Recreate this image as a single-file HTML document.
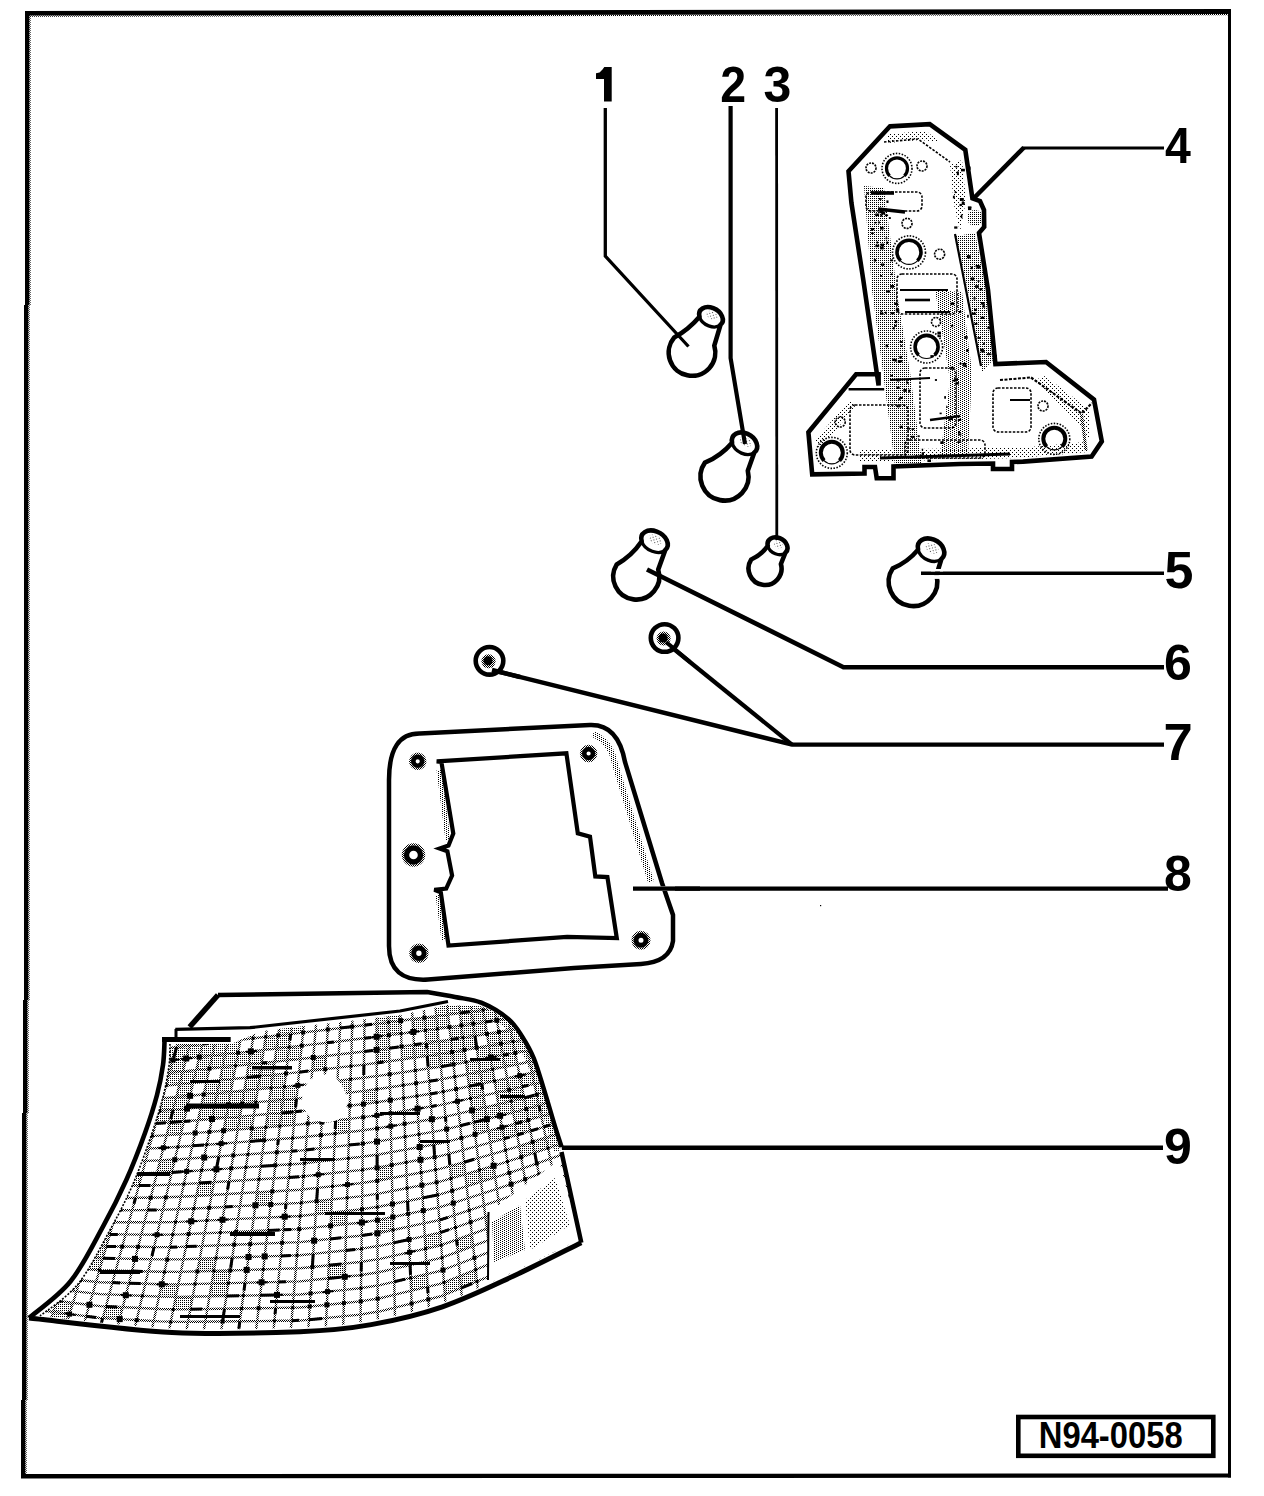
<!DOCTYPE html>
<html><head><meta charset="utf-8"><title>N94-0058</title>
<style>
html,body{margin:0;padding:0;background:#fff;}
body{width:1264px;height:1496px;overflow:hidden;}
svg{display:block;}
text{font-family:"Liberation Sans",sans-serif;font-weight:bold;}
</style></head><body>
<svg width="1264" height="1496" viewBox="0 0 1264 1496">
<defs>
<pattern id="s25" width="2" height="2" patternUnits="userSpaceOnUse"><rect width="1" height="1" fill="#000"/></pattern>
<pattern id="s50" width="2" height="2" patternUnits="userSpaceOnUse"><rect width="1" height="1" fill="#000"/><rect x="1" y="1" width="1" height="1" fill="#000"/></pattern>
<pattern id="s12" width="4" height="2" patternUnits="userSpaceOnUse"><rect width="1" height="1" fill="#000"/><rect x="2" y="1" width="1" height="1" fill="#000"/></pattern>
<pattern id="s6" width="4" height="4" patternUnits="userSpaceOnUse"><rect width="1" height="1" fill="#000"/><rect x="2" y="2" width="1" height="1" fill="#000"/></pattern>
</defs>

<g fill="#000">
<polygon points="25,11 1231,9 1231,14 25,15.6"/>
<polygon points="29,15.6 1228,14 1228,15.2 29,16.8" fill="url(#s50)"/>
<polygon points="25,11 25,305 24,305 24,1000 23,1000 23,1113 22,1113 22,1400 21,1400 21,1478 25.3,1478 25.3,1400 26.3,1400 26.3,1113 27.3,1113 27.3,1000 28.3,1000 28.3,305 29.3,305 29.3,11"/>
<polygon points="29.3,11 29.3,305 28.3,305 28.3,1000 27.3,1000 27.3,1113 26.3,1113 26.3,1400 25.3,1400 25.3,1478 26.6,1478 26.6,1400 27.6,1400 27.6,1113 28.6,1113 28.6,1000 29.6,1000 29.6,305 30.6,305 30.6,11" fill="url(#s50)"/>
<polygon points="1228,9 1231,9 1231,1477.5 1228,1477.5"/>
<polygon points="21,1474 1231,1473.5 1231,1477.5 21,1478.5"/>
</g>
<g font-size="50" fill="#000">
<polygon points="604.3,67 611.7,67 611.7,101.6 604,101.6 604,79 596,79 596,73.2 599.5,72.4 602.5,69.5"/>
<text transform="translate(720.2,102) scale(0.93,1)" font-size="50">2</text>
<text transform="translate(1165,163.3) scale(0.93,1)" font-size="50">4</text>
<text x="763.5" y="102" font-size="50">3</text>
<text x="1164.6" y="588.2" font-size="52">5</text>
<text x="1164" y="680.3" font-size="50">6</text>
<text x="1163.6" y="759.6" font-size="52.6">7</text>
<text x="1164" y="891" font-size="50">8</text>
<text x="1164" y="1164" font-size="50">9</text>
</g>
<path d="M714.3,345.7 A23.3,23.3 0 1 1 674.2,337.5 Q688.8,329.4 699.5,316.7 A9,12.5 -61.8 1 1 720.5,324.8 Z" fill="#fff" stroke="#000" stroke-width="4.6" stroke-linejoin="round"/><ellipse cx="711.9" cy="315.2" rx="4" ry="6.2" transform="rotate(-61.8 711.9 315.2)" fill="url(#s6)" opacity="0.7"/><path d="M720.5,324.8 A9,12.5 -61.8 0 1 699.5,316.7" fill="none" stroke="#000" stroke-width="3.3"/>
<path d="M747.8,470.8 A24,24 0 1 1 704.9,462.7 Q720.9,455.9 732.1,442.7 A10,13.5 -58.8 1 1 754.3,452.5 Z" fill="#fff" stroke="#000" stroke-width="4.6" stroke-linejoin="round"/><ellipse cx="745.5" cy="441.8" rx="4.5" ry="6.8" transform="rotate(-58.8 745.5 441.8)" fill="url(#s6)" opacity="0.7"/><path d="M754.3,452.5 A10,13.5 -58.8 0 1 732.1,442.7" fill="none" stroke="#000" stroke-width="3.3"/>
<path d="M658.2,569.6 A23,23 0 1 1 616.7,564.5 Q631.9,555.8 641.7,541.3 A10,14 -62.5 1 1 665.3,550 Z" fill="#fff" stroke="#000" stroke-width="4.6" stroke-linejoin="round"/><ellipse cx="655.4" cy="539.7" rx="4.5" ry="7" transform="rotate(-62.5 655.4 539.7)" fill="url(#s6)" opacity="0.7"/><path d="M665.3,550 A10,14 -62.5 0 1 641.7,541.3" fill="none" stroke="#000" stroke-width="3.3"/>
<path d="M780.9,564 A16.5,16.5 0 1 1 751.2,559.5 Q761.4,555 767.8,545.8 A8,10.5 -60.9 1 1 785.4,552.7 Z" fill="#fff" stroke="#000" stroke-width="4.6" stroke-linejoin="round"/><ellipse cx="778.5" cy="544.3" rx="3.6" ry="5.2" transform="rotate(-60.9 778.5 544.3)" fill="url(#s6)" opacity="0.7"/><path d="M785.4,552.7 A8,10.5 -60.9 0 1 767.8,545.8" fill="none" stroke="#000" stroke-width="3.3"/>
<path d="M936.4,575.2 A24.3,24.3 0 1 1 892.8,568.3 Q907.8,562.1 918.1,549.6 A10.5,14 -60.4 1 1 941.4,559 Z" fill="#fff" stroke="#000" stroke-width="4.6" stroke-linejoin="round"/><ellipse cx="932" cy="548.3" rx="4.7" ry="7" transform="rotate(-60.4 932 548.3)" fill="url(#s6)" opacity="0.7"/><path d="M941.4,559 A10.5,14 -60.4 0 1 918.1,549.6" fill="none" stroke="#000" stroke-width="3.3"/>
<g fill="none" stroke="#000" stroke-linejoin="miter" stroke-linecap="butt">
<polyline points="605.3,108 605.3,256 688.5,346.5" stroke-width="3.3"/>
<polyline points="730.6,106 730.6,358 745,444" stroke-width="4.2"/>
<polyline points="776.6,108 776.8,540" stroke-width="2.8"/>
<polyline points="1164,148 1022.5,148" stroke-width="3.2"/>
<polyline points="1024,147.5 973,199" stroke-width="4.6"/>
<polyline points="921,573.3 1164,573.3" stroke-width="3.4"/>
<polyline points="647,569.5 843.5,667.2 1164,667.2" stroke-width="4.6"/>
<polyline points="498,671.5 792,744.6 1164,744.6" stroke-width="4.4"/>
<polyline points="672.6,648 792,744.6" stroke-width="4.2"/>
<polyline points="633,888.6 1168,888.6" stroke-width="4.2"/>
<polyline points="537,1147.8 1163,1147.8" stroke-width="4.4"/>
</g>
<rect x="931" y="569" width="12" height="2.4" fill="#fff"/>
<rect x="931" y="575.1" width="12" height="3.8" fill="#fff"/>
<circle cx="489.5" cy="660.8" r="13.8" fill="#fff" stroke="#000" stroke-width="4.6"/>
<circle cx="488.5" cy="661.3" r="7" fill="url(#s50)"/>
<circle cx="488" cy="660.8" r="4.5" fill="#000"/>
<circle cx="664.6" cy="638" r="13.8" fill="#fff" stroke="#000" stroke-width="4.6"/>
<circle cx="663.6" cy="638.5" r="7" fill="url(#s50)"/>
<circle cx="663.1" cy="638" r="4.5" fill="#000"/>
<polyline points="492,670 520,677" fill="none" stroke="#000" stroke-width="4.4"/>
<polyline points="666,642 690,662" fill="none" stroke="#000" stroke-width="4.2"/>
<polygon points="889.8,126.4 929.7,124.2 965.3,149.9 972.4,198.3 980,201 984,210 984.2,227 979,233 988,290 995.4,364 1046,362 1094,399.6 1101.8,441.4 1091.6,456.6 1023,461.6 1012,462 1012,469 993,469 993,463.5 960,464 893.5,466.5 893.5,478.2 876.7,478.2 875,467 864.5,467 864.5,473.5 812.2,474.4 808.4,432.3 856.1,374.3 878.6,374.3 878.6,385.5 863.3,280 851.4,202.6 848.5,171.3" fill="#fff"/>
<polygon points="864,186 884,188 898,300 910,372 922,465 895,466 884,380 872,290" fill="url(#s25)"/>
<polygon points="956,236 975,233 987,292 993,360 982,372 970,300" fill="url(#s25)"/>
<polygon points="935,290 962,292 972,372 968,455 940,458 950,380" fill="url(#s12)"/>
<polygon points="950,165 962,160 966,200 960,232 954,205" fill="url(#s6)"/>
<polygon points="888,134 926,131 940,142 920,140 888,143" fill="url(#s6)"/>
<polygon points="860,450 1030,447 1085,442 1088,452 1020,458 860,462" fill="url(#s6)"/>
<polygon points="1035,380 1045,376 1090,410 1090,440 1075,420" fill="url(#s6)"/>
<polygon points="815,440 850,400 856,405 820,450" fill="url(#s6)"/>
<circle cx="975" cy="218" r="8" fill="url(#s25)"/>
<polygon points="897,160 912,160 912,178 897,178" fill="#fff"/>
<g fill="#000"><rect x="890.6" y="312.1" width="3.8" height="2.2"/><rect x="892.8" y="327.1" width="2" height="2.3"/><rect x="900.6" y="360.1" width="1.7" height="2"/><rect x="884.9" y="214.5" width="3.2" height="1.6"/><rect x="925.7" y="455.2" width="3.1" height="2.4"/><rect x="871" y="232.5" width="2.8" height="1.6"/><rect x="876.5" y="241.4" width="1.6" height="2.2"/><rect x="895.9" y="308.9" width="2.8" height="2.5"/><rect x="894.1" y="324.9" width="2.6" height="1.9"/><rect x="927.4" y="459.4" width="3.6" height="2.6"/><rect x="880" y="275.1" width="2.2" height="1.6"/><rect x="899.3" y="396.9" width="3.6" height="2.1"/><rect x="921.7" y="448.7" width="1.5" height="1.8"/><rect x="910.8" y="435.8" width="4" height="2.1"/><rect x="880.8" y="209.7" width="3.4" height="1.9"/><rect x="875.2" y="213.5" width="3.9" height="2.6"/><rect x="874.4" y="221.9" width="1.8" height="1.6"/><rect x="897" y="405.2" width="2.9" height="2.2"/><rect x="886.3" y="241.5" width="1.8" height="2.5"/><rect x="877.9" y="221.5" width="2" height="1.9"/><rect x="921.7" y="452.2" width="2.3" height="2.8"/><rect x="880.1" y="246.9" width="3.6" height="2.5"/><rect x="888.8" y="217.1" width="2" height="1.9"/><rect x="898.3" y="398.6" width="2.2" height="1.6"/><rect x="880.3" y="214.3" width="2.1" height="2.4"/><rect x="886.1" y="290.4" width="3.9" height="2.2"/><rect x="900.4" y="345.1" width="2" height="1.7"/><rect x="917.6" y="435.3" width="2.1" height="1.8"/><rect x="908.2" y="389.6" width="2" height="2.9"/><rect x="911.5" y="428.2" width="2.6" height="1.7"/><rect x="886.4" y="200.4" width="2.1" height="2.6"/><rect x="890.1" y="259.4" width="3" height="1.9"/><rect x="885.6" y="237.4" width="1.7" height="1.8"/><rect x="899.7" y="341" width="3" height="1.9"/><rect x="906" y="437.7" width="1.5" height="1.9"/><rect x="880.4" y="310.3" width="1.9" height="2.1"/><rect x="885.6" y="344.5" width="2.4" height="2.8"/><rect x="919.5" y="454.7" width="3.2" height="2.4"/><rect x="870.9" y="227.9" width="1.5" height="2.9"/><rect x="906.1" y="379.3" width="1.6" height="2.5"/><rect x="894.9" y="320.2" width="2.3" height="3"/><rect x="879.2" y="210.3" width="3.3" height="2.9"/><rect x="903.3" y="389" width="3.5" height="2.9"/><rect x="890.2" y="285" width="3.8" height="2.8"/><rect x="894.2" y="302.6" width="3.7" height="2.4"/><rect x="892.2" y="358.7" width="3" height="2.4"/><rect x="881.2" y="211.7" width="4" height="2.8"/><rect x="896.4" y="386.6" width="3.3" height="2.4"/><rect x="895.9" y="308.9" width="1.7" height="2.6"/><rect x="878.9" y="198" width="2.7" height="1.8"/><rect x="896.7" y="378.6" width="3" height="2.9"/><rect x="873.8" y="259.1" width="2.3" height="2.5"/><rect x="875.4" y="244.7" width="3.8" height="2.5"/><rect x="897" y="309.3" width="2.3" height="2.5"/><rect x="880.5" y="243.6" width="3.5" height="2.9"/><rect x="907" y="427.7" width="3" height="2"/><rect x="880" y="226.8" width="3.6" height="2.8"/><rect x="906.4" y="382" width="2.2" height="1.8"/><rect x="884.9" y="311.7" width="2" height="2.1"/><rect x="894.5" y="358.9" width="2.3" height="2.8"/><rect x="915.5" y="455.1" width="1.7" height="1.5"/><rect x="899.6" y="425.7" width="3.3" height="2.4"/><rect x="891" y="273.4" width="1.5" height="1.7"/><rect x="880" y="312.8" width="3.6" height="1.9"/><rect x="871.1" y="228" width="3.1" height="2.2"/><rect x="897.8" y="360.1" width="3.5" height="2.9"/><rect x="890.3" y="374.8" width="2.7" height="1.8"/><rect x="875.8" y="192.9" width="3.3" height="1.8"/><rect x="881" y="263.5" width="3.2" height="2.3"/><rect x="899.4" y="355.9" width="2.5" height="2.7"/><rect x="980.1" y="348.7" width="3.8" height="2.6"/><rect x="967.4" y="255.6" width="3.1" height="2.9"/><rect x="975.1" y="285.2" width="3.7" height="2.7"/><rect x="987.1" y="353.3" width="3.1" height="1.8"/><rect x="987.4" y="326.6" width="3.1" height="2.6"/><rect x="976.5" y="265.6" width="4" height="3"/><rect x="982.5" y="304.4" width="2.3" height="2.9"/><rect x="983.1" y="342.7" width="1.7" height="2.2"/><rect x="982.5" y="306" width="2.7" height="1.5"/><rect x="977.4" y="337.1" width="3.5" height="1.8"/><rect x="977.6" y="280.2" width="1.9" height="1.7"/><rect x="981" y="302" width="3.6" height="2.5"/><rect x="987.6" y="353.5" width="3.9" height="1.6"/><rect x="970.7" y="266.6" width="2.2" height="2.6"/><rect x="980.7" y="316.7" width="3.6" height="2.3"/><rect x="970.6" y="277.4" width="3.6" height="2.9"/><rect x="975.6" y="265" width="3.9" height="2.3"/><rect x="974" y="308.8" width="2.8" height="2.3"/><rect x="972" y="312.6" width="3.9" height="2.3"/><rect x="979.4" y="288.1" width="2.9" height="2.2"/><rect x="974.6" y="322.9" width="2.8" height="2.1"/><rect x="994.7" y="354.8" width="2.2" height="2.2"/><rect x="967" y="255.2" width="3.5" height="2.9"/><rect x="973.5" y="297.2" width="2" height="2.4"/><rect x="981.3" y="351" width="3.4" height="1.5"/><rect x="937.8" y="335.2" width="3.2" height="2"/><rect x="944.2" y="396.1" width="1.8" height="2.6"/><rect x="934.9" y="379.1" width="2.1" height="1.8"/><rect x="951.2" y="367.7" width="2.4" height="2.1"/><rect x="951.2" y="324.8" width="2" height="2.4"/><rect x="955.5" y="382.1" width="3.6" height="2.4"/><rect x="964.3" y="336.1" width="3.4" height="2.7"/><rect x="966.1" y="349" width="2.3" height="2.9"/><rect x="938.7" y="454.7" width="3.7" height="1.7"/><rect x="939.6" y="412.6" width="2.1" height="1.6"/><rect x="963.3" y="365.4" width="3.5" height="1.7"/><rect x="946.1" y="406.2" width="1.5" height="1.8"/><rect x="957.3" y="441.3" width="3.9" height="1.7"/><rect x="950.2" y="417.5" width="2.8" height="2.5"/><rect x="937.6" y="310.9" width="1.8" height="1.6"/><rect x="952.1" y="379.8" width="2.9" height="1.7"/><rect x="937.4" y="331.6" width="3.6" height="3"/><rect x="967.1" y="314.8" width="1.7" height="2.9"/><rect x="948.5" y="418.5" width="2.3" height="2.2"/><rect x="950.6" y="366.7" width="3" height="1.5"/><rect x="958" y="430.9" width="2" height="2.2"/><rect x="959.6" y="362.8" width="2" height="1.7"/><rect x="950.5" y="302.4" width="3.7" height="2.7"/><rect x="958.2" y="433.4" width="3.1" height="2.1"/><rect x="954" y="378.2" width="4" height="2.7"/><rect x="940.3" y="441.3" width="3.4" height="2.7"/><rect x="962.6" y="362.9" width="3.7" height="2.8"/><rect x="957.8" y="418.9" width="3.4" height="2.1"/><rect x="958.9" y="310.9" width="2.4" height="2.2"/><rect x="930.4" y="355.1" width="3.1" height="2.4"/><rect x="954.2" y="226.4" width="3.2" height="2.3"/><rect x="961.9" y="202" width="2.8" height="2.5"/><rect x="968" y="206.7" width="3.3" height="3.4"/><rect x="967.6" y="166.5" width="3" height="3.3"/><rect x="954.6" y="191.1" width="1.6" height="2"/><rect x="956.8" y="171.4" width="2.1" height="3.8"/><rect x="959.9" y="198" width="3.9" height="2.9"/><rect x="967.9" y="206.5" width="3.5" height="1.7"/><rect x="960.8" y="214.4" width="1.6" height="3.8"/><rect x="952.9" y="195.7" width="1.9" height="2.7"/><rect x="961" y="168.8" width="3.9" height="2.6"/><rect x="959.5" y="203.9" width="2.4" height="2.2"/><rect x="961.8" y="201.4" width="2.2" height="3.3"/><rect x="955.3" y="165.9" width="2.1" height="1.6"/></g>
<polygon points="889.8,126.4 929.7,124.2 965.3,149.9 972.4,198.3 980,201 984,210 984.2,227 979,233 988,290 995.4,364 1046,362 1094,399.6 1101.8,441.4 1091.6,456.6 1023,461.6 1012,462 1012,469 993,469 993,463.5 960,464 893.5,466.5 893.5,478.2 876.7,478.2 875,467 864.5,467 864.5,473.5 812.2,474.4 808.4,432.3 856.1,374.3 878.6,374.3 878.6,385.5 863.3,280 851.4,202.6 848.5,171.3" fill="none" stroke="#000" stroke-width="4.6" stroke-linejoin="miter"/>
<g fill="none" stroke="#000">
<polyline points="955,234 968,300 981,366" stroke-width="2.2"/>
<polyline points="848.6,389.3 884.2,389.3" stroke-width="2.5"/>
<polyline points="1031,377.5 1081.5,413.5 1092,403" stroke-width="2.2" stroke-dasharray="3,1.5"/>
<polyline points="1000,380 1031,377.5" stroke-width="2" stroke-dasharray="3,1.5"/>
<polyline points="1081.5,414 1086,450" stroke-width="3" stroke="url(#s50)"/>
<polyline points="884,142 918,139 950,162" stroke-width="1.6" stroke-dasharray="2.5,1.5"/>
<circle cx="897" cy="168.4" r="15" stroke-width="1.6" stroke-dasharray="1.5,1.5"/>
<path d="M889.6,175.8 A10.5,10.5 0 1 1 904.4,175.8" stroke-width="3.2"/>
<circle cx="897" cy="168.4" r="10.5" stroke-width="1.2"/>
<circle cx="909" cy="252.4" r="16.5" stroke-width="1.6" stroke-dasharray="1.5,1.5"/>
<path d="M900.6,260.8 A12,12 0 1 1 917.4,260.8" stroke-width="3.6"/>
<circle cx="909" cy="252.4" r="12" stroke-width="1.2"/>
<circle cx="926.6" cy="347" r="16" stroke-width="1.6" stroke-dasharray="1.5,1.5"/>
<path d="M918.6,355.1 A11.5,11.5 0 1 1 934.6,355.1" stroke-width="3.6"/>
<circle cx="926.6" cy="347" r="11.5" stroke-width="1.2"/>
<circle cx="831.8" cy="452.9" r="15.5" stroke-width="1.6" stroke-dasharray="1.5,1.5"/>
<path d="M824.1,460.6 A11,11 0 1 1 839.5,460.6" stroke-width="4"/>
<circle cx="831.8" cy="452.9" r="11" stroke-width="1.2"/>
<circle cx="1054.3" cy="438.9" r="15.5" stroke-width="1.6" stroke-dasharray="1.5,1.5"/>
<path d="M1046.6,446.6 A11,11 0 1 1 1062,446.6" stroke-width="4"/>
<circle cx="1054.3" cy="438.9" r="11" stroke-width="1.2"/>
<circle cx="939.6" cy="254.2" r="5" stroke-width="1.6" stroke-dasharray="2,1"/>
<circle cx="907" cy="223.4" r="5" stroke-width="1.6" stroke-dasharray="2,1"/>
<circle cx="840.2" cy="422" r="5" stroke-width="1.6" stroke-dasharray="2,1"/>
<circle cx="1043" cy="406" r="5" stroke-width="1.6" stroke-dasharray="2,1"/>
<circle cx="871" cy="168" r="5" stroke-width="1.6" stroke-dasharray="2,1"/>
<circle cx="922" cy="166" r="5" stroke-width="1.6" stroke-dasharray="2,1"/>
<circle cx="936" cy="322" r="4.5" stroke-width="1.6" stroke-dasharray="2,1"/>
<rect x="866" y="192" width="56" height="19" rx="5" stroke-width="1.6" stroke-dasharray="2.5,1.5"/>
<rect x="897" y="274" width="60" height="40" rx="5" stroke-width="1.6" stroke-dasharray="2.5,1.5"/>
<rect x="920" y="368" width="36" height="60" rx="5" stroke-width="1.6" stroke-dasharray="2.5,1.5"/>
<rect x="850" y="405" width="58" height="50" rx="5" stroke-width="1.6" stroke-dasharray="2.5,1.5"/>
<rect x="993" y="388" width="38" height="44" rx="5" stroke-width="1.6" stroke-dasharray="2.5,1.5"/>
<rect x="905" y="440" width="80" height="18" rx="5" stroke-width="1.6" stroke-dasharray="2.5,1.5"/>
<polyline points="871,193 894,193" stroke-width="3.6"/>
<polyline points="878,209 905,212" stroke-width="3.4"/>
<polyline points="900,290 948,290" stroke-width="2"/>
<polyline points="905,300 930,300" stroke-width="2.6"/>
<polyline points="905,312 950,312" stroke-width="2.2"/>
<polyline points="880,458 1010,454" stroke-width="3.2"/>
<polyline points="930,420 960,416" stroke-width="2.6"/>
<polyline points="1010,400 1030,400" stroke-width="2"/>
<polyline points="890,380 930,378" stroke-width="2.2"/>
</g>
<path d="M389,780 Q389,733 420,733.5 L590,725 Q618,724 625,762 L662,883 L673,915 L673,941 Q670,962 641,964 L574,968 L428,979.5 Q389,982 389,946 Z" fill="#fff" stroke="#000" stroke-width="4.5"/>
<path d="M598,732 Q616,740 620,762 L656,880" fill="none" stroke="url(#s12)" stroke-width="6" transform="translate(-5,2)"/>
<path d="M443,770 L452,840" fill="none" stroke="url(#s12)" stroke-width="5" transform="translate(-4,0)"/>
<path d="M442,895 L448,940" fill="none" stroke="url(#s12)" stroke-width="5" transform="translate(-4,0)"/>
<polygon points="436.7,761.3 566.4,753.3 577.8,833.4 590,836.7 595.3,876.4 607.4,877.1 616.8,938.2 567.1,936.8 448.5,945.6 440.8,892.2 434.3,889.8 446.2,888.6 452.1,875.6 447.4,851.4 439.6,848.5 448.5,845.5 453.3,833.6 441.4,762" fill="#fff" stroke="#000" stroke-width="4.2" stroke-linejoin="miter"/>
<circle cx="417.7" cy="761.3" r="4.4" fill="#fff" stroke="#000" stroke-width="4.6"/>
<circle cx="417.7" cy="761.3" r="7.7" fill="none" stroke="url(#s50)" stroke-width="2"/>
<circle cx="588.6" cy="753.5" r="4.4" fill="#fff" stroke="#000" stroke-width="4.6"/>
<circle cx="588.6" cy="753.5" r="7.7" fill="none" stroke="url(#s50)" stroke-width="2"/>
<circle cx="413.5" cy="855" r="7" fill="#fff" stroke="#000" stroke-width="5.4"/>
<circle cx="413.5" cy="855" r="10.7" fill="none" stroke="url(#s50)" stroke-width="2"/>
<circle cx="418.9" cy="953.3" r="5.2" fill="#fff" stroke="#000" stroke-width="5"/>
<circle cx="418.9" cy="953.3" r="8.7" fill="none" stroke="url(#s50)" stroke-width="2"/>
<circle cx="641" cy="940.2" r="5" fill="#fff" stroke="#000" stroke-width="5"/>
<circle cx="641" cy="940.2" r="8.5" fill="none" stroke="url(#s50)" stroke-width="2"/>
<rect x="655" y="886.3" width="20" height="4.6" fill="#fff"/>
<polyline points="633,888.6 700,888.6" fill="none" stroke="#000" stroke-width="4.2"/>
<defs><clipPath id="lc"><path d="M164.6,1040 L231,1040 L260,1027.5 L400,1011 L448,1001.5 L481.2,1002.6 C485.7,1005.3 501.4,1013.2 508.3,1018.9 C515.2,1024.6 518.1,1030.4 522.4,1037 C526.6,1043.6 530.1,1049.3 533.8,1058.3 C537.5,1067.3 540.8,1079.5 544.4,1091 C548,1102.5 552.3,1117.9 555.2,1127.2 C558.1,1136.5 560.5,1143.7 561.6,1147 L562.5,1154 L580.5,1239 L581.3,1242.7 C570,1248.2 536.8,1265.3 513.6,1276 C490.5,1286.7 466.1,1298.7 442.4,1306.8 C418.7,1314.9 394.9,1320.4 371.2,1324.6 C347.5,1328.8 333.2,1330.4 300,1331.7 C266.8,1333 217.2,1334.8 172,1332.5 C126.8,1330.2 52.8,1320.4 29,1318 C35.9,1311.9 58.2,1296.7 70.6,1281.3 C83,1265.9 94.2,1242.5 103.5,1225.6 C112.8,1208.7 119.4,1195.4 126.3,1180 C133.2,1164.6 139.9,1147.2 145,1133 C150.1,1118.8 154,1106.3 157,1095 C160,1083.7 161.7,1074.2 163,1065 C164.3,1055.8 164.3,1044.2 164.6,1040 Z"/></clipPath><clipPath id="gc"><path d="M170,1044 L231,1044 L262,1031 L400,1015 L448,1005 L481,1006.5 C485.3,1007.5 500.4,1014.5 507,1020 C513.6,1025.5 516.3,1031.4 520.5,1038 C524.7,1044.6 528.3,1050.6 532,1059.5 C535.7,1068.4 538.9,1080.2 542.5,1091.5 C546.1,1102.8 550.6,1118.1 553.5,1127.5 C556.4,1136.9 558.9,1144.6 560,1148 L579,1240 C567.2,1245.3 535.7,1261.5 513,1272 C490.3,1282.5 465.7,1294.9 442,1303 C418.3,1311.1 394.7,1316.4 371,1320.5 C347.3,1324.6 333.2,1326.2 300,1327.5 C266.8,1328.8 215.3,1330.4 172,1328.5 C128.7,1326.6 62,1318.1 40,1316 C46.3,1310.7 66.3,1298.3 78,1284 C89.7,1269.7 100.8,1246.7 110,1230 C119.2,1213.3 126.2,1199.7 133,1184 C139.8,1168.3 146,1150.5 151,1136 C156,1121.5 160,1108.7 163,1097 C166,1085.3 167.8,1074.8 169,1066 C170.2,1057.2 169.8,1047.7 170,1044 Z"/></clipPath></defs>
<path d="M164.6,1040 L231,1040 L260,1027.5 L400,1011 L448,1001.5 L481.2,1002.6 C485.7,1005.3 501.4,1013.2 508.3,1018.9 C515.2,1024.6 518.1,1030.4 522.4,1037 C526.6,1043.6 530.1,1049.3 533.8,1058.3 C537.5,1067.3 540.8,1079.5 544.4,1091 C548,1102.5 552.3,1117.9 555.2,1127.2 C558.1,1136.5 560.5,1143.7 561.6,1147 L562.5,1154 L580.5,1239 L581.3,1242.7 C570,1248.2 536.8,1265.3 513.6,1276 C490.5,1286.7 466.1,1298.7 442.4,1306.8 C418.7,1314.9 394.9,1320.4 371.2,1324.6 C347.5,1328.8 333.2,1330.4 300,1331.7 C266.8,1333 217.2,1334.8 172,1332.5 C126.8,1330.2 52.8,1320.4 29,1318 C35.9,1311.9 58.2,1296.7 70.6,1281.3 C83,1265.9 94.2,1242.5 103.5,1225.6 C112.8,1208.7 119.4,1195.4 126.3,1180 C133.2,1164.6 139.9,1147.2 145,1133 C150.1,1118.8 154,1106.3 157,1095 C160,1083.7 161.7,1074.2 163,1065 C164.3,1055.8 164.3,1044.2 164.6,1040 Z" fill="#fff"/>
<g clip-path="url(#gc)">
<g fill="url(#s25)"><polygon points="146.1,1025.8 158.7,1024.3 154.7,1037.1 141.9,1038.5"/><polygon points="171.2,1022.8 183.7,1021.2 180.2,1034.2 167.5,1035.7"/><polygon points="208.5,1018.1 220.9,1016.6 218,1029.6 205.4,1031.1"/><polygon points="245.4,1013.5 257.6,1012 255.3,1025.1 242.9,1026.6"/><polygon points="269.7,1010.5 281.7,1009 280,1022.2 267.7,1023.7"/><polygon points="281.7,1009 293.8,1007.5 292.2,1020.7 280,1022.2"/><polygon points="388,996.2 399.6,994.8 400.1,1007.8 388.3,1009.2"/><polygon points="399.6,994.8 411.1,993.5 411.8,1006.3 400.1,1007.8"/><polygon points="411.1,993.5 422.6,992.2 423.5,1004.9 411.8,1006.3"/><polygon points="422.6,992.2 434,990.9 435.1,1003.5 423.5,1004.9"/><polygon points="434,990.9 445.4,989.6 446.7,1002.2 435.1,1003.5"/><polygon points="445.4,989.6 456.7,988.4 458.3,1000.8 446.7,1002.2"/><polygon points="456.7,988.4 468,987.2 469.8,999.4 458.3,1000.8"/><polygon points="468,987.2 479.3,986 481.2,998.1 469.8,999.4"/><polygon points="479.3,986 490.5,984.8 492.7,996.7 481.2,998.1"/><polygon points="490.5,984.8 501.7,983.7 504,995.4 492.7,996.7"/><polygon points="501.7,983.7 512.9,982.5 515.3,994 504,995.4"/><polygon points="512.9,982.5 524,981.3 526.6,992.7 515.3,994"/><polygon points="141.9,1038.5 154.7,1037.1 150.8,1049.8 137.8,1051.2"/><polygon points="154.7,1037.1 167.5,1035.7 163.7,1048.5 150.8,1049.8"/><polygon points="180.2,1034.2 192.8,1032.7 189.5,1045.6 176.6,1047.1"/><polygon points="230.5,1028.1 242.9,1026.6 240.5,1039.7 227.8,1041.2"/><polygon points="242.9,1026.6 255.3,1025.1 253.1,1038.3 240.5,1039.7"/><polygon points="280,1022.2 292.2,1020.7 290.7,1033.9 278.2,1035.4"/><polygon points="292.2,1020.7 304.4,1019.3 303.1,1032.5 290.7,1033.9"/><polygon points="376.5,1010.6 388.3,1009.2 388.6,1022.2 376.5,1023.7"/><polygon points="388.3,1009.2 400.1,1007.8 400.6,1020.7 388.6,1022.2"/><polygon points="435.1,1003.5 446.7,1002.2 448.1,1014.7 436.3,1016.2"/><polygon points="446.7,1002.2 458.3,1000.8 459.8,1013.1 448.1,1014.7"/><polygon points="458.3,1000.8 469.8,999.4 471.5,1011.6 459.8,1013.1"/><polygon points="469.8,999.4 481.2,998.1 483.2,1010.1 471.5,1011.6"/><polygon points="481.2,998.1 492.7,996.7 494.8,1008.5 483.2,1010.1"/><polygon points="492.7,996.7 504,995.4 506.3,1007 494.8,1008.5"/><polygon points="504,995.4 515.3,994 517.8,1005.5 506.3,1007"/><polygon points="515.3,994 526.6,992.7 529.2,1004 517.8,1005.5"/><polygon points="137.8,1051.2 150.8,1049.8 146.9,1062.5 133.7,1063.8"/><polygon points="150.8,1049.8 163.7,1048.5 160,1061.3 146.9,1062.5"/><polygon points="163.7,1048.5 176.6,1047.1 173.1,1060 160,1061.3"/><polygon points="176.6,1047.1 189.5,1045.6 186.2,1058.5 173.1,1060"/><polygon points="189.5,1045.6 202.3,1044.1 199.3,1057.1 186.2,1058.5"/><polygon points="202.3,1044.1 215.1,1042.7 212.3,1055.7 199.3,1057.1"/><polygon points="215.1,1042.7 227.8,1041.2 225.2,1054.2 212.3,1055.7"/><polygon points="227.8,1041.2 240.5,1039.7 238.1,1052.8 225.2,1054.2"/><polygon points="265.7,1036.8 278.2,1035.4 276.4,1048.5 263.7,1050"/><polygon points="278.2,1035.4 290.7,1033.9 289.1,1047.1 276.4,1048.5"/><polygon points="376.5,1023.7 388.6,1022.2 388.9,1035.2 376.6,1036.8"/><polygon points="388.6,1022.2 400.6,1020.7 401.1,1033.6 388.9,1035.2"/><polygon points="412.5,1019.2 424.4,1017.7 425.4,1030.4 413.3,1032"/><polygon points="424.4,1017.7 436.3,1016.2 437.4,1028.8 425.4,1030.4"/><polygon points="436.3,1016.2 448.1,1014.7 449.4,1027.1 437.4,1028.8"/><polygon points="459.8,1013.1 471.5,1011.6 473.3,1023.7 461.4,1025.4"/><polygon points="471.5,1011.6 483.2,1010.1 485.1,1022 473.3,1023.7"/><polygon points="483.2,1010.1 494.8,1008.5 496.8,1020.3 485.1,1022"/><polygon points="506.3,1007 517.8,1005.5 520.2,1016.9 508.5,1018.6"/><polygon points="517.8,1005.5 529.2,1004 531.8,1015.2 520.2,1016.9"/><polygon points="133.7,1063.8 146.9,1062.5 143,1075.2 129.7,1076.3"/><polygon points="146.9,1062.5 160,1061.3 156.3,1074 143,1075.2"/><polygon points="160,1061.3 173.1,1060 169.6,1072.8 156.3,1074"/><polygon points="173.1,1060 186.2,1058.5 182.9,1071.4 169.6,1072.8"/><polygon points="199.3,1057.1 212.3,1055.7 209.4,1068.6 196.2,1070"/><polygon points="212.3,1055.7 225.2,1054.2 222.5,1067.2 209.4,1068.6"/><polygon points="225.2,1054.2 238.1,1052.8 235.6,1065.8 222.5,1067.2"/><polygon points="238.1,1052.8 250.9,1051.4 248.7,1064.5 235.6,1065.8"/><polygon points="250.9,1051.4 263.7,1050 261.7,1063.1 248.7,1064.5"/><polygon points="276.4,1048.5 289.1,1047.1 287.6,1060.3 274.7,1061.7"/><polygon points="289.1,1047.1 301.8,1045.7 300.4,1059 287.6,1060.3"/><polygon points="376.6,1036.8 388.9,1035.2 389.1,1048.2 376.6,1049.9"/><polygon points="425.4,1030.4 437.4,1028.8 438.6,1041.4 426.3,1043.1"/><polygon points="449.4,1027.1 461.4,1025.4 462.9,1037.7 450.8,1039.6"/><polygon points="461.4,1025.4 473.3,1023.7 475,1035.8 462.9,1037.7"/><polygon points="473.3,1023.7 485.1,1022 487,1033.9 475,1035.8"/><polygon points="508.5,1018.6 520.2,1016.9 522.6,1028.2 510.8,1030.1"/><polygon points="520.2,1016.9 531.8,1015.2 534.3,1026.3 522.6,1028.2"/><polygon points="129.7,1076.3 143,1075.2 139.2,1087.7 125.6,1088.8"/><polygon points="143,1075.2 156.3,1074 152.7,1086.7 139.2,1087.7"/><polygon points="156.3,1074 169.6,1072.8 166.2,1085.6 152.7,1086.7"/><polygon points="169.6,1072.8 182.9,1071.4 179.6,1084.3 166.2,1085.6"/><polygon points="182.9,1071.4 196.2,1070 193.1,1082.9 179.6,1084.3"/><polygon points="196.2,1070 209.4,1068.6 206.5,1081.6 193.1,1082.9"/><polygon points="222.5,1067.2 235.6,1065.8 233.2,1078.9 219.9,1080.2"/><polygon points="248.7,1064.5 261.7,1063.1 259.7,1076.2 246.5,1077.5"/><polygon points="261.7,1063.1 274.7,1061.7 272.9,1074.8 259.7,1076.2"/><polygon points="313.3,1057.5 326,1056 325.2,1069.2 312.2,1070.7"/><polygon points="376.6,1049.9 389.1,1048.2 389.4,1061.2 376.7,1063"/><polygon points="401.6,1046.5 414,1044.8 414.7,1057.6 402.1,1059.4"/><polygon points="414,1044.8 426.3,1043.1 427.3,1055.8 414.7,1057.6"/><polygon points="426.3,1043.1 438.6,1041.4 439.7,1054.1 427.3,1055.8"/><polygon points="438.6,1041.4 450.8,1039.6 452.1,1052 439.7,1054.1"/><polygon points="450.8,1039.6 462.9,1037.7 464.5,1049.9 452.1,1052"/><polygon points="462.9,1037.7 475,1035.8 476.7,1047.8 464.5,1049.9"/><polygon points="487,1033.9 498.9,1032 501,1043.7 488.9,1045.7"/><polygon points="498.9,1032 510.8,1030.1 513,1041.6 501,1043.7"/><polygon points="510.8,1030.1 522.6,1028.2 525,1039.5 513,1041.6"/><polygon points="522.6,1028.2 534.3,1026.3 536.9,1037.3 525,1039.5"/><polygon points="125.6,1088.8 139.2,1087.7 135.3,1100.2 121.6,1101.2"/><polygon points="139.2,1087.7 152.7,1086.7 149,1099.3 135.3,1100.2"/><polygon points="152.7,1086.7 166.2,1085.6 162.7,1098.3 149,1099.3"/><polygon points="179.6,1084.3 193.1,1082.9 190.1,1095.8 176.4,1097.1"/><polygon points="206.5,1081.6 219.9,1080.2 217.3,1093.2 203.7,1094.5"/><polygon points="219.9,1080.2 233.2,1078.9 230.8,1091.9 217.3,1093.2"/><polygon points="246.5,1077.5 259.7,1076.2 257.7,1089.3 244.3,1090.6"/><polygon points="259.7,1076.2 272.9,1074.8 271.1,1088 257.7,1089.3"/><polygon points="272.9,1074.8 286,1073.5 284.5,1086.7 271.1,1088"/><polygon points="427.3,1055.8 439.7,1054.1 440.9,1066.7 428.2,1068.5"/><polygon points="439.7,1054.1 452.1,1052 453.5,1064.4 440.9,1066.7"/><polygon points="452.1,1052 464.5,1049.9 466,1062.1 453.5,1064.4"/><polygon points="476.7,1047.8 488.9,1045.7 490.8,1057.5 478.4,1059.8"/><polygon points="488.9,1045.7 501,1043.7 503.1,1055.3 490.8,1057.5"/><polygon points="501,1043.7 513,1041.6 515.3,1053 503.1,1055.3"/><polygon points="513,1041.6 525,1039.5 527.4,1050.7 515.3,1053"/><polygon points="121.6,1101.2 135.3,1100.2 131.5,1112.7 117.6,1113.6"/><polygon points="135.3,1100.2 149,1099.3 145.4,1111.8 131.5,1112.7"/><polygon points="149,1099.3 162.7,1098.3 159.2,1110.9 145.4,1111.8"/><polygon points="162.7,1098.3 176.4,1097.1 173.1,1109.9 159.2,1110.9"/><polygon points="176.4,1097.1 190.1,1095.8 187,1108.6 173.1,1109.9"/><polygon points="203.7,1094.5 217.3,1093.2 214.6,1106.1 200.8,1107.4"/><polygon points="217.3,1093.2 230.8,1091.9 228.4,1104.8 214.6,1106.1"/><polygon points="230.8,1091.9 244.3,1090.6 242.1,1103.6 228.4,1104.8"/><polygon points="244.3,1090.6 257.7,1089.3 255.8,1102.3 242.1,1103.6"/><polygon points="271.1,1088 284.5,1086.7 283,1099.8 269.4,1101.1"/><polygon points="284.5,1086.7 297.8,1085.4 296.5,1098.6 283,1099.8"/><polygon points="337.5,1080.8 350.6,1079.3 350.2,1092.5 336.9,1094"/><polygon points="466,1062.1 478.4,1059.8 480.1,1071.7 467.5,1074.2"/><polygon points="478.4,1059.8 490.8,1057.5 492.7,1069.3 480.1,1071.7"/><polygon points="490.8,1057.5 503.1,1055.3 505.1,1066.8 492.7,1069.3"/><polygon points="503.1,1055.3 515.3,1053 517.5,1064.4 505.1,1066.8"/><polygon points="527.4,1050.7 539.4,1048.3 541.9,1059.2 529.7,1061.8"/><polygon points="117.6,1113.6 131.5,1112.7 127.7,1125.1 113.6,1125.9"/><polygon points="159.2,1110.9 173.1,1109.9 169.9,1122.6 155.8,1123.5"/><polygon points="173.1,1109.9 187,1108.6 183.9,1121.4 169.9,1122.6"/><polygon points="200.8,1107.4 214.6,1106.1 212,1119 198,1120.2"/><polygon points="214.6,1106.1 228.4,1104.8 226,1117.8 212,1119"/><polygon points="228.4,1104.8 242.1,1103.6 239.9,1116.6 226,1117.8"/><polygon points="269.4,1101.1 283,1099.8 281.4,1113 267.6,1114.2"/><polygon points="283,1099.8 296.5,1098.6 295.2,1111.8 281.4,1113"/><polygon points="363.6,1090.9 376.8,1089.2 376.9,1102.3 363.4,1104.1"/><polygon points="467.5,1074.2 480.1,1071.7 481.8,1083.6 469,1086.3"/><polygon points="480.1,1071.7 492.7,1069.3 494.5,1081 481.8,1083.6"/><polygon points="169.9,1122.6 183.9,1121.4 180.9,1134.2 166.6,1135.3"/><polygon points="226,1117.8 239.9,1116.6 237.7,1129.5 223.6,1130.7"/><polygon points="239.9,1116.6 253.8,1115.4 251.8,1128.4 237.7,1129.5"/><polygon points="267.6,1114.2 281.4,1113 279.9,1126.1 265.9,1127.2"/><polygon points="281.4,1113 295.2,1111.8 293.9,1124.9 279.9,1126.1"/><polygon points="469,1086.3 481.8,1083.6 483.5,1095.5 470.5,1098.4"/><polygon points="494.5,1081 507.1,1078.3 509.2,1089.8 496.4,1092.6"/><polygon points="507.1,1078.3 519.7,1075.6 521.8,1086.8 509.2,1089.8"/><polygon points="519.7,1075.6 532.1,1072.8 534.4,1083.8 521.8,1086.8"/><polygon points="532.1,1072.8 544.4,1070 546.8,1080.8 534.4,1083.8"/><polygon points="251.8,1128.4 265.9,1127.2 264.1,1140.3 249.8,1141.4"/><polygon points="335.6,1120.4 349.5,1118.8 349.1,1132 335,1133.6"/><polygon points="470.5,1098.4 483.5,1095.5 485.2,1107.3 472.1,1110.4"/><polygon points="496.4,1092.6 509.2,1089.8 511.2,1101.2 498.3,1104.3"/><polygon points="509.2,1089.8 521.8,1086.8 524,1098 511.2,1101.2"/><polygon points="534.4,1083.8 546.8,1080.8 549.3,1091.4 536.7,1094.7"/><polygon points="472.1,1110.4 485.2,1107.3 486.9,1119.1 473.6,1122.4"/><polygon points="485.2,1107.3 498.3,1104.3 500.1,1115.8 486.9,1119.1"/><polygon points="498.3,1104.3 511.2,1101.2 513.2,1112.6 500.1,1115.8"/><polygon points="511.2,1101.2 524,1098 526.2,1109 513.2,1112.6"/><polygon points="524,1098 536.7,1094.7 539,1105.5 526.2,1109"/><polygon points="160.2,1160.4 174.8,1159.7 171.8,1172.4 157,1172.8"/><polygon points="473.6,1122.4 486.9,1119.1 488.6,1130.8 475.1,1134.4"/><polygon points="513.2,1112.6 526.2,1109 528.3,1120 515.2,1123.8"/><polygon points="526.2,1109 539,1105.5 541.3,1116.3 528.3,1120"/><polygon points="539,1105.5 551.7,1102 554.1,1112.6 541.3,1116.3"/><polygon points="127.4,1173.7 142.2,1173.3 138.9,1185.6 123.9,1186"/><polygon points="488.6,1130.8 502,1127.3 503.8,1138.8 490.2,1142.5"/><polygon points="502,1127.3 515.2,1123.8 517.2,1135 503.8,1138.8"/><polygon points="515.2,1123.8 528.3,1120 530.4,1131 517.2,1135"/><polygon points="108.9,1186.3 123.9,1186 120.3,1198.1 105.2,1198.4"/><polygon points="199,1183.1 214,1182.2 211.6,1195 196.4,1195.9"/><polygon points="377.1,1167.8 391.7,1165.1 392,1178.1 377.2,1180.9"/><polygon points="257.1,1192.3 272.3,1191.4 270.7,1204.5 255.4,1205.3"/><polygon points="449.9,1166.2 464.1,1162.2 465.4,1174.2 451.1,1178.5"/><polygon points="519.2,1146.1 532.6,1141.9 534.7,1152.7 521.2,1157.2"/><polygon points="532.6,1141.9 545.8,1137.6 548,1148.2 534.7,1152.7"/><polygon points="545.8,1137.6 558.9,1133.4 561.3,1143.7 548,1148.2"/><polygon points="316.6,1201.1 331.9,1199.4 331.2,1212.6 315.8,1214.3"/><polygon points="465.4,1174.2 479.5,1170 481,1181.8 466.7,1186.3"/><polygon points="479.5,1170 493.6,1165.8 495.2,1177.3 481,1181.8"/><polygon points="82.5,1221.5 97.8,1222.3 94.2,1234 78.8,1233.1"/><polygon points="97.8,1222.3 113.3,1222.4 109.8,1234.4 94.2,1234"/><polygon points="331.2,1212.6 346.7,1211 346.3,1224.1 330.6,1225.8"/><polygon points="78.8,1233.1 94.2,1234 90.6,1245.7 75,1244.6"/><polygon points="94.2,1234 109.8,1234.4 106.3,1246.4 90.6,1245.7"/><polygon points="377.4,1220.2 392.8,1217 393.1,1229.9 377.4,1233.3"/><polygon points="90.6,1245.7 106.3,1246.4 102.9,1258.3 87.1,1257.2"/><polygon points="71.3,1256 87.1,1257.2 83.5,1268.7 67.6,1267.3"/><polygon points="87.1,1257.2 102.9,1258.3 99.4,1270.2 83.5,1268.7"/><polygon points="199.8,1258.7 216,1258.1 213.9,1270.9 197.4,1271.4"/><polygon points="424.8,1236 440.3,1232.7 441.2,1245.2 425.5,1248.7"/><polygon points="67.6,1267.3 83.5,1268.7 80,1280.2 64,1278.6"/><polygon points="213.9,1270.9 230.3,1270.4 228.4,1283.2 211.7,1283.6"/><polygon points="328.7,1265.3 345.1,1263.6 344.7,1276.8 328.1,1278.5"/><polygon points="456.6,1239.7 471.9,1234.1 473.1,1246 457.7,1251.8"/><polygon points="64,1278.6 80,1280.2 76.5,1291.5 60.4,1289.8"/><polygon points="161.8,1284.3 178.4,1284.4 175.8,1297 159.1,1296.6"/><polygon points="211.7,1283.6 228.4,1283.2 226.4,1296 209.6,1296.3"/><polygon points="175.8,1297 192.7,1296.7 190.3,1309.3 173.2,1309.5"/><polygon points="410.6,1277.9 426.9,1274.1 427.6,1286.7 411.1,1290.7"/><polygon points="534.6,1233.2 549.1,1226.7 551.1,1237.1 536.5,1243.8"/><polygon points="56.8,1300.9 73,1302.8 69.6,1314.1 53.2,1311.9"/><polygon points="105.9,1306.4 122.7,1307.2 119.7,1319.1 102.7,1318.2"/><polygon points="444,1282.5 459.9,1276 461,1288.1 444.9,1294.9"/><polygon points="459.9,1276 475.7,1269.7 477,1281.5 461,1288.1"/><polygon points="53.2,1311.9 69.6,1314.1 66.2,1325.2 49.6,1322.9"/><polygon points="538.4,1254.4 553.1,1247.3 555.1,1257.6 540.3,1264.9"/><polygon points="82.8,1327.6 99.5,1329.9 96.4,1341.4 79.5,1338.9"/><polygon points="185.7,1334.4 203.2,1334.3 201,1346.9 183.3,1347"/><polygon points="569.7,1250.4 584.1,1243.3 586.3,1252.9 571.8,1260.3"/></g>
<g fill="none" stroke="url(#s50)" stroke-width="2.4"><polyline points="0,1042.8 20,1040.5 40,1038.1 60,1035.8 80,1033.4 100,1031 120,1028.7 140,1026.5 160,1024.2 180,1021.7 200,1019.2 220,1016.7 240,1014.2 260,1011.7 280,1009.2 300,1006.7 320,1004.3 340,1001.9 360,999.4 380,997.1 400,994.8 420,992.5 440,990.2 460,988.1 480,986 500,983.8 520,981.7 540,979.7 560,977.6 580,975.6 600,973.5"/><polyline points="0,1053.8 20,1051.6 40,1049.5 60,1047.3 80,1045.2 100,1043 120,1040.8 140,1038.7 160,1036.5 180,1034.2 200,1031.8 220,1029.4 240,1027 260,1024.6 280,1022.2 300,1019.8 320,1017.4 340,1015 360,1012.6 380,1010.2 400,1007.8 420,1005.4 440,1003 460,1000.6 480,998.2 500,995.8 520,993.5 540,991.1 560,988.7 580,986.4 600,984"/><polyline points="0,1064.8 20,1062.8 40,1060.8 60,1058.9 80,1056.9 100,1055 120,1052.9 140,1050.9 160,1048.9 180,1046.7 200,1044.4 220,1042.1 240,1039.8 260,1037.5 280,1035.2 300,1032.9 320,1030.5 340,1028.1 360,1025.7 380,1023.3 400,1020.7 420,1018.2 440,1015.7 460,1013.1 480,1010.5 500,1007.8 520,1005.2 540,1002.5 560,999.8 580,997.2 600,994.5"/><polyline points="0,1075.8 20,1073.9 40,1072.1 60,1070.4 80,1068.7 100,1066.9 120,1065 140,1063.2 160,1061.3 180,1059.2 200,1057 220,1054.8 240,1052.6 260,1050.4 280,1048.2 300,1045.9 320,1043.6 340,1041.2 360,1038.8 380,1036.4 400,1033.7 420,1031.1 440,1028.5 460,1025.6 480,1022.7 500,1019.8 520,1016.9 540,1013.9 560,1010.9 580,1007.9 600,1005"/><polyline points="0,1086.8 20,1085.1 40,1083.5 60,1081.9 80,1080.4 100,1078.9 120,1077.1 140,1075.4 160,1073.7 180,1071.7 200,1069.6 220,1067.5 240,1065.4 260,1063.3 280,1061.1 300,1059 320,1056.7 340,1054.3 360,1052 380,1049.4 400,1046.7 420,1044 440,1041.3 460,1038.1 480,1035 500,1031.8 520,1028.6 540,1025.3 560,1022 580,1018.7 600,1015.4"/><polyline points="0,1097.8 20,1096.2 40,1094.8 60,1093.5 80,1092.2 100,1090.8 120,1089.2 140,1087.7 160,1086.1 180,1084.2 200,1082.2 220,1080.2 240,1078.2 260,1076.1 280,1074.1 300,1072.1 320,1069.8 340,1067.4 360,1065.1 380,1062.5 400,1059.7 420,1056.9 440,1054 460,1050.7 480,1047.3 500,1043.8 520,1040.4 540,1036.8 560,1033.1 580,1029.5 600,1025.9"/><polyline points="0,1108.8 20,1107.4 40,1106.1 60,1105 80,1103.9 100,1102.8 120,1101.3 140,1099.9 160,1098.5 180,1096.8 200,1094.8 220,1092.9 240,1091 260,1089 280,1087.1 300,1085.2 320,1082.9 340,1080.5 360,1078.2 380,1075.6 400,1072.7 420,1069.7 440,1066.8 460,1063.2 480,1059.5 500,1055.8 520,1052.1 540,1048.2 560,1044.2 580,1040.3 600,1036.4"/><polyline points="0,1119.8 20,1118.6 40,1117.5 60,1116.6 80,1115.7 100,1114.8 120,1113.4 140,1112.1 160,1110.8 180,1109.3 200,1107.4 220,1105.6 240,1103.8 260,1101.9 280,1100.1 300,1098.3 320,1096 340,1093.7 360,1091.4 380,1088.7 400,1085.7 420,1082.6 440,1079.5 460,1075.7 480,1071.8 500,1067.8 520,1063.8 540,1059.6 560,1055.3 580,1051.1 600,1046.9"/><polyline points="0,1130.8 20,1129.7 40,1128.8 60,1128.1 80,1127.4 100,1126.7 120,1125.5 140,1124.4 160,1123.2 180,1121.8 200,1120 220,1118.3 240,1116.6 260,1114.8 280,1113.1 300,1111.3 320,1109.1 340,1106.8 360,1104.5 380,1101.8 400,1098.6 420,1095.5 440,1092.3 460,1088.2 480,1084 500,1079.8 520,1075.5 540,1071 560,1066.4 580,1061.9 600,1057.4"/><polyline points="0,1141.8 20,1140.9 40,1140.2 60,1139.7 80,1139.2 100,1138.7 120,1137.6 140,1136.6 160,1135.6 180,1134.3 200,1132.6 220,1131 240,1129.4 260,1127.7 280,1126.1 300,1124.4 320,1122.2 340,1119.9 360,1117.6 380,1114.9 400,1111.6 420,1108.3 440,1105.1 460,1100.7 480,1096.3 500,1091.8 520,1087.3 540,1082.4 560,1077.6 580,1072.7 600,1067.9"/><polyline points="0,1152.9 20,1152 40,1151.5 60,1151.2 80,1150.9 100,1150.6 120,1149.7 140,1148.9 160,1148 180,1146.8 200,1145.2 220,1143.7 240,1142.1 260,1140.6 280,1139 300,1137.5 320,1135.2 340,1133 360,1130.7 380,1128 400,1124.6 420,1121.2 440,1117.8 460,1113.3 480,1108.6 500,1103.8 520,1099 540,1093.8 560,1088.7 580,1083.5 600,1078.3"/><polyline points="0,1163.9 20,1163.2 40,1162.8 60,1162.7 80,1162.7 100,1162.6 120,1161.8 140,1161.1 160,1160.4 180,1159.3 200,1157.8 220,1156.4 240,1154.9 260,1153.5 280,1152 300,1150.6 320,1148.3 340,1146.1 360,1143.9 380,1141.1 400,1137.6 420,1134.1 440,1130.6 460,1125.8 480,1120.8 500,1115.8 520,1110.7 540,1105.2 560,1099.8 580,1094.3 600,1088.8"/><polyline points="0,1174.9 20,1174.3 40,1174.2 60,1174.3 80,1174.4 100,1174.5 120,1173.9 140,1173.4 160,1172.8 180,1171.8 200,1170.5 220,1169.1 240,1167.7 260,1166.4 280,1165 300,1163.7 320,1161.4 340,1159.2 360,1157 380,1154.2 400,1150.6 420,1147 440,1143.4 460,1138.3 480,1133.1 500,1127.8 520,1122.4 540,1116.6 560,1110.9 580,1105.1 600,1099.3"/><polyline points="0,1185.9 20,1185.5 40,1185.5 60,1185.8 80,1186.2 100,1186.5 120,1186 140,1185.6 160,1185.1 180,1184.3 200,1183.1 220,1181.8 240,1180.5 260,1179.3 280,1178 300,1176.7 320,1174.5 340,1172.3 360,1170.1 380,1167.3 400,1163.5 420,1159.8 440,1156.1 460,1150.8 480,1145.3 500,1139.8 520,1134.2 540,1128.1 560,1122 580,1115.9 600,1109.8"/><polyline points="0,1196.9 20,1196.7 40,1196.8 60,1197.4 80,1197.9 100,1198.5 120,1198.1 140,1197.8 160,1197.5 180,1196.8 200,1195.7 220,1194.5 240,1193.3 260,1192.2 280,1191 300,1189.8 320,1187.6 340,1185.5 360,1183.3 380,1180.3 400,1176.5 420,1172.7 440,1168.9 460,1163.3 480,1157.6 500,1151.8 520,1145.9 540,1139.5 560,1133.1 580,1126.6 600,1120.3"/><polyline points="0,1207.9 20,1207.8 40,1208.2 60,1208.9 80,1209.7 100,1210.4 120,1210.2 140,1210.1 160,1209.9 180,1209.3 200,1208.3 220,1207.2 240,1206.1 260,1205 280,1204 300,1202.9 320,1200.7 340,1198.6 360,1196.4 380,1193.4 400,1189.5 420,1185.6 440,1181.7 460,1175.9 480,1169.9 500,1163.8 520,1157.6 540,1150.9 560,1144.2 580,1137.4 600,1130.7"/><polyline points="0,1218.9 20,1219 40,1219.5 60,1220.5 80,1221.4 100,1222.4 120,1222.3 140,1222.3 160,1222.3 180,1221.9 200,1220.9 220,1219.9 240,1218.9 260,1217.9 280,1217 300,1216 320,1213.8 340,1211.7 360,1209.5 380,1206.5 400,1202.5 420,1198.5 440,1194.4 460,1188.4 480,1182.1 500,1175.8 520,1169.3 540,1162.3 560,1155.3 580,1148.2 600,1141.2"/><polyline points="0,1229.9 20,1230.1 40,1230.9 60,1232 80,1233.2 100,1234.3 120,1234.4 140,1234.6 160,1234.7 180,1234.4 200,1233.5 220,1232.6 240,1231.7 260,1230.8 280,1229.9 300,1229.1 320,1226.9 340,1224.8 360,1222.7 380,1219.6 400,1215.5 420,1211.3 440,1207.2 460,1200.9 480,1194.4 500,1187.8 520,1181.1 540,1173.7 560,1166.4 580,1159 600,1151.7"/><polyline points="0,1240.9 20,1241.3 40,1242.2 60,1243.6 80,1244.9 100,1246.3 120,1246.5 140,1246.8 160,1247.1 180,1246.9 200,1246.1 220,1245.3 240,1244.5 260,1243.7 280,1242.9 300,1242.1 320,1240 340,1237.9 360,1235.8 380,1232.7 400,1228.5 420,1224.2 440,1220 460,1213.4 480,1206.6 500,1199.8 520,1192.8 540,1185.1 560,1177.5 580,1169.8 600,1162.2"/><polyline points="0,1251.9 20,1252.4 40,1253.5 60,1255.1 80,1256.7 100,1258.2 120,1258.6 140,1259 160,1259.4 180,1259.4 200,1258.7 220,1258 240,1257.3 260,1256.6 280,1255.9 300,1255.2 320,1253.1 340,1251 360,1248.9 380,1245.8 400,1241.4 420,1237.1 440,1232.7 460,1225.9 480,1218.9 500,1211.8 520,1204.5 540,1196.5 560,1188.6 580,1180.6 600,1172.7"/><polyline points="0,1263 20,1263.6 40,1264.9 60,1266.6 80,1268.4 100,1270.2 120,1270.7 140,1271.3 160,1271.8 180,1271.9 200,1271.3 220,1270.7 240,1270.1 260,1269.5 280,1268.9 300,1268.3 320,1266.2 340,1264.1 360,1262 380,1258.9 400,1254.4 420,1250 440,1245.5 460,1238.5 480,1231.2 500,1223.8 520,1216.2 540,1208 560,1199.7 580,1191.4 600,1183.1"/><polyline points="0,1274 20,1274.8 40,1276.2 60,1278.2 80,1280.2 100,1282.2 120,1282.8 140,1283.5 160,1284.2 180,1284.4 200,1283.9 220,1283.4 240,1282.9 260,1282.4 280,1281.9 300,1281.4 320,1279.3 340,1277.2 360,1275.2 380,1272 400,1267.4 420,1262.8 440,1258.2 460,1251 480,1243.4 500,1235.8 520,1228 540,1219.4 560,1210.8 580,1202.2 600,1193.6"/><polyline points="0,1285 20,1285.9 40,1287.5 60,1289.7 80,1291.9 100,1294.1 120,1294.9 140,1295.8 160,1296.6 180,1296.9 200,1296.5 220,1296.1 240,1295.7 260,1295.3 280,1294.9 300,1294.5 320,1292.4 340,1290.4 360,1288.3 380,1285.1 400,1280.4 420,1275.7 440,1271 460,1263.5 480,1255.7 500,1247.8 520,1239.7 540,1230.8 560,1221.9 580,1213 600,1204.1"/><polyline points="0,1296 20,1297.1 40,1298.9 60,1301.3 80,1303.7 100,1306.1 120,1307 140,1308 160,1309 180,1309.4 200,1309.1 220,1308.8 240,1308.5 260,1308.2 280,1307.9 300,1307.5 320,1305.5 340,1303.5 360,1301.4 380,1298.2 400,1293.4 420,1288.6 440,1283.8 460,1276 480,1267.9 500,1259.8 520,1251.4 540,1242.2 560,1233 580,1223.8 600,1214.6"/><polyline points="0,1307 20,1308.2 40,1310.2 60,1312.8 80,1315.4 100,1318 120,1319.1 140,1320.3 160,1321.4 180,1321.9 200,1321.7 220,1321.5 240,1321.3 260,1321.1 280,1320.8 300,1320.6 320,1318.6 340,1316.6 360,1314.6 380,1311.3 400,1306.3 420,1301.4 440,1296.5 460,1288.5 480,1280.2 500,1271.8 520,1263.1 540,1253.6 560,1244.1 580,1234.5 600,1225.1"/><polyline points="0,1318 20,1319.4 40,1321.5 60,1324.4 80,1327.2 100,1330 120,1331.2 140,1332.5 160,1333.8 180,1334.5 200,1334.3 220,1334.2 240,1334.1 260,1334 280,1333.8 300,1333.7 320,1331.7 340,1329.7 360,1327.7 380,1324.3 400,1319.3 420,1314.3 440,1309.3 460,1301.1 480,1292.5 500,1283.9 520,1274.9 540,1265 560,1255.2 580,1245.3 600,1235.6"/><polyline points="0,1329 20,1330.5 40,1332.9 60,1335.9 80,1338.9 100,1342 120,1343.4 140,1344.7 160,1346.1 180,1347 200,1346.9 220,1346.9 240,1346.9 260,1346.8 280,1346.8 300,1346.8 320,1344.8 340,1342.8 360,1340.8 380,1337.4 400,1332.3 420,1327.2 440,1322.1 460,1313.6 480,1304.7 500,1295.9 520,1286.6 540,1276.4 560,1266.3 580,1256.1 600,1246"/><polyline points="160.9,980 147.9,1020 135,1060 122,1100 109,1140 96,1180 83,1220 70,1260 57,1300 44.1,1340"/><polyline points="172.3,980 160,1020 147.7,1060 135.4,1100 123.1,1140 110.8,1180 98.5,1220 86.2,1260 73.9,1300 61.6,1340"/><polyline points="183.6,980 172,1020 160.4,1060 148.8,1100 137.2,1140 125.6,1180 114,1220 102.4,1260 90.8,1300 79.2,1340"/><polyline points="194.9,980 184,1020 173.1,1060 162.2,1100 151.3,1140 140.4,1180 129.5,1220 118.6,1260 107.7,1300 96.8,1340"/><polyline points="206.3,980 196.1,1020 185.8,1060 175.6,1100 165.4,1140 155.2,1180 145,1220 134.8,1260 124.6,1300 114.3,1340"/><polyline points="217.6,980 208.1,1020 198.6,1060 189,1100 179.5,1140 170,1180 160.5,1220 151,1260 141.4,1300 131.9,1340"/><polyline points="229,980 220.1,1020 211.3,1060 202.5,1100 193.6,1140 184.8,1180 176,1220 167.1,1260 158.3,1300 149.5,1340"/><polyline points="240.3,980 232.2,1020 224,1060 215.9,1100 207.7,1140 199.6,1180 191.5,1220 183.3,1260 175.2,1300 167,1340"/><polyline points="251.6,980 244.2,1020 236.7,1060 229.3,1100 221.8,1140 214.4,1180 207,1220 199.5,1260 192.1,1300 184.6,1340"/><polyline points="263,980 256.2,1020 249.5,1060 242.7,1100 236,1140 229.2,1180 222.4,1220 215.7,1260 208.9,1300 202.2,1340"/><polyline points="274.3,980 268.2,1020 262.2,1060 256.1,1100 250.1,1140 244,1180 237.9,1220 231.9,1260 225.8,1300 219.8,1340"/><polyline points="285.6,980 280.3,1020 274.9,1060 269.5,1100 264.2,1140 258.8,1180 253.4,1220 248.1,1260 242.7,1300 237.3,1340"/><polyline points="297,980 292.3,1020 287.6,1060 282.9,1100 278.3,1140 273.6,1180 268.9,1220 264.3,1260 259.6,1300 254.9,1340"/><polyline points="308.3,980 304.3,1020 300.3,1060 296.4,1100 292.4,1140 288.4,1180 284.4,1220 280.4,1260 276.5,1300 272.5,1340"/><polyline points="319.6,980 316.4,1020 313.1,1060 309.8,1100 306.5,1140 303.2,1180 299.9,1220 296.6,1260 293.3,1300 290,1340"/><polyline points="331,980 328.4,1020 325.8,1060 323.2,1100 320.6,1140 318,1180 315.4,1220 312.8,1260 310.2,1300 307.6,1340"/><polyline points="342.3,980 340.4,1020 338.5,1060 336.6,1100 334.7,1140 332.8,1180 330.9,1220 329,1260 327.1,1300 325.2,1340"/><polyline points="353.7,980 352.4,1020 351.2,1060 350,1100 348.8,1140 347.6,1180 346.4,1220 345.2,1260 344,1300 342.8,1340"/><polyline points="365,980 364.5,1020 364,1060 363.4,1100 362.9,1140 362.4,1180 361.9,1220 361.4,1260 360.8,1300 360.3,1340"/><polyline points="376.3,980 376.5,1020 376.7,1060 376.8,1100 377,1140 377.2,1180 377.4,1220 377.6,1260 377.7,1300 377.9,1340"/><polyline points="387.7,980 388.5,1020 389.4,1060 390.3,1100 391.1,1140 392,1180 392.9,1220 393.7,1260 394.6,1300 395.5,1340"/><polyline points="399,980 400.6,1020 402.1,1060 403.7,1100 405.2,1140 406.8,1180 408.4,1220 409.9,1260 411.5,1300 413,1340"/><polyline points="410.3,980 412.6,1020 414.8,1060 417.1,1100 419.3,1140 421.6,1180 423.9,1220 426.1,1260 428.4,1300 430.6,1340"/><polyline points="421.7,980 424.6,1020 427.6,1060 430.5,1100 433.5,1140 436.4,1180 439.3,1220 442.3,1260 445.2,1300 448.2,1340"/><polyline points="433,980 436.6,1020 440.3,1060 443.9,1100 447.6,1140 451.2,1180 454.8,1220 458.5,1260 462.1,1300 465.8,1340"/><polyline points="444.3,980 448.7,1020 453,1060 457.3,1100 461.7,1140 466,1180 470.3,1220 474.7,1260 479,1300 483.3,1340"/><polyline points="455.7,980 460.7,1020 465.7,1060 470.8,1100 475.8,1140 480.8,1180 485.8,1220 490.8,1260 495.9,1300 500.9,1340"/><polyline points="467,980 472.7,1020 478.4,1060 484.2,1100 489.9,1140 495.6,1180 501.3,1220 507,1260 512.8,1300 518.5,1340"/><polyline points="478.3,980 484.8,1020 491.2,1060 497.6,1100 504,1140 510.4,1180 516.8,1220 523.2,1260 529.6,1300 536,1340"/><polyline points="489.7,980 496.8,1020 503.9,1060 511,1100 518.1,1140 525.2,1180 532.3,1220 539.4,1260 546.5,1300 553.6,1340"/><polyline points="501,980 508.8,1020 516.6,1060 524.4,1100 532.2,1140 540,1180 547.8,1220 555.6,1260 563.4,1300 571.2,1340"/><polyline points="512.4,980 520.8,1020 529.3,1060 537.8,1100 546.3,1140 554.8,1180 563.3,1220 571.8,1260 580.3,1300 588.8,1340"/><polyline points="523.7,980 532.9,1020 542.1,1060 551.2,1100 560.4,1140 569.6,1180 578.8,1220 588,1260 597.1,1300 606.3,1340"/></g>
<g fill="#000"><rect x="143.6" y="1023.3" width="5" height="5"/><line x1="141.1" y1="1026.2" x2="152.1" y2="1025.2" stroke="#000" stroke-width="2"/><line x1="158.7" y1="1024.3" x2="166.9" y2="1023.3" stroke="#000" stroke-width="3"/><rect x="168.7" y="1020.3" width="5" height="5"/><line x1="166.2" y1="1023.3" x2="177.2" y2="1022.2" stroke="#000" stroke-width="2"/><rect x="180.7" y="1018.2" width="6" height="6"/><line x1="178.7" y1="1021.8" x2="189.7" y2="1020.6" stroke="#000" stroke-width="2"/><line x1="196.1" y1="1019.7" x2="207.4" y2="1018.3" stroke="#000" stroke-width="3"/><rect x="218.4" y="1014.1" width="5" height="5"/><line x1="215.9" y1="1017.1" x2="226.9" y2="1016" stroke="#000" stroke-width="2"/><line x1="245.4" y1="1013.5" x2="243.6" y2="1022.9" stroke="#000" stroke-width="3"/><line x1="257.6" y1="1012" x2="255.7" y2="1022.7" stroke="#000" stroke-width="3"/><rect x="279.7" y="1007" width="4" height="4"/><rect x="292.3" y="1006" width="3" height="3"/><rect x="302.7" y="1003" width="6" height="6"/><line x1="300.7" y1="1006.5" x2="311.7" y2="1005.4" stroke="#000" stroke-width="2"/><rect x="316.1" y="1003.1" width="3" height="3"/><rect x="350.5" y="997.8" width="5" height="5"/><rect x="374.4" y="995.5" width="4" height="4"/><rect x="385" y="993.2" width="6" height="6"/><line x1="399.6" y1="994.8" x2="408.3" y2="993.8" stroke="#000" stroke-width="3"/><rect x="408.1" y="990.5" width="6" height="6"/><line x1="406.1" y1="994" x2="417.1" y2="993" stroke="#000" stroke-width="2"/><line x1="422.6" y1="992.2" x2="427.9" y2="991.6" stroke="#000" stroke-width="3"/><rect x="432.5" y="989.4" width="3" height="3"/><rect x="466" y="985.2" width="4" height="4"/><line x1="479.3" y1="986" x2="488" y2="985.1" stroke="#000" stroke-width="3"/><rect x="488" y="982.3" width="5" height="5"/><rect x="510.9" y="980.5" width="4" height="4"/><rect x="521" y="978.3" width="6" height="6"/><rect x="138.9" y="1035.5" width="6" height="6"/><rect x="151.7" y="1034.1" width="6" height="6"/><line x1="149.7" y1="1037.6" x2="160.7" y2="1036.5" stroke="#000" stroke-width="2"/><rect x="166" y="1034.2" width="3" height="3"/><line x1="205.4" y1="1031.1" x2="203.6" y2="1039.1" stroke="#000" stroke-width="3"/><rect x="265.7" y="1021.7" width="4" height="4"/><rect x="289.2" y="1017.7" width="6" height="6"/><line x1="287.2" y1="1021.2" x2="298.2" y2="1020.1" stroke="#000" stroke-width="2"/><rect x="301.9" y="1016.8" width="5" height="5"/><rect x="338.7" y="1012.9" width="4" height="4"/><rect x="349.6" y="1010.5" width="6" height="6"/><rect x="361.6" y="1009" width="6" height="6"/><rect x="373.5" y="1007.6" width="6" height="6"/><rect x="398.1" y="1005.8" width="4" height="4"/><rect x="433.1" y="1001.5" width="4" height="4"/><rect x="479.7" y="996.6" width="3" height="3"/><rect x="489.7" y="993.7" width="6" height="6"/><line x1="487.7" y1="997.2" x2="498.7" y2="996.2" stroke="#000" stroke-width="2"/><rect x="501.5" y="992.9" width="5" height="5"/><line x1="499" y1="995.8" x2="510" y2="994.8" stroke="#000" stroke-width="2"/><rect x="512.8" y="991.5" width="5" height="5"/><line x1="510.3" y1="994.5" x2="521.3" y2="993.5" stroke="#000" stroke-width="2"/><line x1="137.8" y1="1051.2" x2="134.6" y2="1061.2" stroke="#000" stroke-width="3"/><rect x="149.3" y="1048.3" width="3" height="3"/><line x1="176.6" y1="1047.1" x2="173.7" y2="1058" stroke="#000" stroke-width="3"/><line x1="202.3" y1="1044.1" x2="208.5" y2="1043.4" stroke="#000" stroke-width="3"/><rect x="225.3" y="1038.7" width="5" height="5"/><line x1="222.8" y1="1041.7" x2="233.8" y2="1040.6" stroke="#000" stroke-width="2"/><rect x="251.6" y="1036.8" width="3" height="3"/><rect x="264.2" y="1035.3" width="3" height="3"/><rect x="276.2" y="1033.4" width="4" height="4"/><line x1="290.7" y1="1033.9" x2="289.9" y2="1040.2" stroke="#000" stroke-width="3"/><rect x="301.1" y="1030.5" width="4" height="4"/><rect x="325.8" y="1027.5" width="4" height="4"/><line x1="340" y1="1028.1" x2="351.6" y2="1026.7" stroke="#000" stroke-width="3"/><rect x="350.2" y="1024.6" width="4" height="4"/><line x1="364.4" y1="1025.2" x2="372" y2="1024.2" stroke="#000" stroke-width="3"/><rect x="387.1" y="1020.7" width="3" height="3"/><rect x="398.1" y="1018.2" width="5" height="5"/><rect x="422.4" y="1015.7" width="4" height="4"/><line x1="459.8" y1="1013.1" x2="469.9" y2="1011.8" stroke="#000" stroke-width="3"/><rect x="481.7" y="1008.6" width="3" height="3"/><line x1="506.3" y1="1007" x2="515.1" y2="1005.8" stroke="#000" stroke-width="3"/><rect x="516.3" y="1004" width="3" height="3"/><rect x="131.2" y="1061.3" width="5" height="5"/><line x1="128.7" y1="1064.2" x2="139.7" y2="1063.3" stroke="#000" stroke-width="2"/><rect x="158" y="1059.3" width="4" height="4"/><rect x="170.6" y="1057.5" width="5" height="5"/><line x1="168.1" y1="1060.5" x2="179.1" y2="1059.4" stroke="#000" stroke-width="2"/><rect x="183.2" y="1055.5" width="6" height="6"/><line x1="181.2" y1="1059" x2="192.2" y2="1057.9" stroke="#000" stroke-width="2"/><rect x="196.8" y="1054.6" width="5" height="5"/><rect x="236.1" y="1050.8" width="4" height="4"/><rect x="247.9" y="1048.4" width="6" height="6"/><line x1="245.9" y1="1051.9" x2="256.9" y2="1050.8" stroke="#000" stroke-width="2"/><rect x="287.6" y="1045.6" width="3" height="3"/><rect x="299.8" y="1043.7" width="4" height="4"/><line x1="326.9" y1="1042.8" x2="333.8" y2="1041.9" stroke="#000" stroke-width="3"/><line x1="364.2" y1="1038.3" x2="371.3" y2="1037.5" stroke="#000" stroke-width="3"/><rect x="373.6" y="1033.8" width="6" height="6"/><line x1="371.6" y1="1037.3" x2="382.6" y2="1036.1" stroke="#000" stroke-width="2"/><rect x="386.9" y="1033.2" width="4" height="4"/><rect x="399.6" y="1032.1" width="3" height="3"/><rect x="410.3" y="1029" width="6" height="6"/><line x1="408.3" y1="1032.5" x2="419.3" y2="1031.3" stroke="#000" stroke-width="2"/><rect x="423.9" y="1028.9" width="3" height="3"/><rect x="435.9" y="1027.3" width="3" height="3"/><rect x="447.4" y="1025.1" width="4" height="4"/><rect x="459.4" y="1023.4" width="4" height="4"/><rect x="471.3" y="1021.7" width="4" height="4"/><line x1="485.1" y1="1022" x2="492.4" y2="1020.9" stroke="#000" stroke-width="3"/><rect x="494.3" y="1017.8" width="5" height="5"/><rect x="518.7" y="1015.4" width="3" height="3"/><rect x="529.3" y="1012.7" width="5" height="5"/><line x1="526.8" y1="1015.2" x2="537.8" y2="1015.2" stroke="#000" stroke-width="2"/><line x1="143" y1="1075.2" x2="155.4" y2="1074.1" stroke="#000" stroke-width="3"/><rect x="154.3" y="1072" width="4" height="4"/><rect x="207.4" y="1066.6" width="4" height="4"/><rect x="234.1" y="1064.3" width="3" height="3"/><line x1="261.7" y1="1063.1" x2="267" y2="1062.5" stroke="#000" stroke-width="3"/><rect x="310.8" y="1055" width="5" height="5"/><line x1="364.1" y1="1051.5" x2="373" y2="1050.4" stroke="#000" stroke-width="3"/><rect x="373.6" y="1046.9" width="6" height="6"/><line x1="389.1" y1="1048.2" x2="398.7" y2="1046.9" stroke="#000" stroke-width="3"/><rect x="399.6" y="1044.5" width="4" height="4"/><line x1="414" y1="1044.8" x2="421.5" y2="1043.8" stroke="#000" stroke-width="3"/><line x1="426.3" y1="1043.1" x2="426.7" y2="1048.5" stroke="#000" stroke-width="3"/><line x1="450.8" y1="1039.6" x2="458.7" y2="1038.3" stroke="#000" stroke-width="3"/><rect x="461.4" y="1036.2" width="3" height="3"/><line x1="475" y1="1035.8" x2="476.5" y2="1046.2" stroke="#000" stroke-width="3"/><rect x="485" y="1031.9" width="4" height="4"/><rect x="496.9" y="1030" width="4" height="4"/><rect x="519.6" y="1025.2" width="6" height="6"/><line x1="517.6" y1="1028.9" x2="528.6" y2="1027.4" stroke="#000" stroke-width="2"/><line x1="534.3" y1="1026.3" x2="535.4" y2="1031" stroke="#000" stroke-width="3"/><rect x="164.7" y="1084.1" width="3" height="3"/><line x1="246.5" y1="1077.5" x2="259" y2="1076.2" stroke="#000" stroke-width="3"/><rect x="258.2" y="1074.7" width="3" height="3"/><rect x="284" y="1071.5" width="4" height="4"/><line x1="299.1" y1="1072.2" x2="308.2" y2="1071.1" stroke="#000" stroke-width="3"/><rect x="323.2" y="1067.2" width="4" height="4"/><rect x="349.5" y="1064.6" width="3" height="3"/><line x1="363.9" y1="1064.6" x2="363.8" y2="1075.1" stroke="#000" stroke-width="3"/><line x1="376.7" y1="1063" x2="383.5" y2="1062" stroke="#000" stroke-width="3"/><line x1="427.3" y1="1055.8" x2="428.1" y2="1066.7" stroke="#000" stroke-width="3"/><rect x="450.1" y="1050" width="4" height="4"/><rect x="462.5" y="1047.9" width="4" height="4"/><rect x="474.7" y="1045.8" width="4" height="4"/><rect x="499" y="1041.7" width="4" height="4"/><rect x="511.5" y="1040.1" width="3" height="3"/><line x1="525" y1="1039.5" x2="526" y2="1044.1" stroke="#000" stroke-width="3"/><line x1="121.6" y1="1101.2" x2="130.8" y2="1100.6" stroke="#000" stroke-width="3"/><rect x="132.3" y="1097.2" width="6" height="6"/><line x1="130.3" y1="1100.6" x2="141.3" y2="1099.8" stroke="#000" stroke-width="2"/><rect x="187.1" y="1092.8" width="6" height="6"/><rect x="201.7" y="1092.5" width="4" height="4"/><rect x="269.6" y="1086.5" width="3" height="3"/><rect x="283" y="1085.2" width="3" height="3"/><rect x="295.3" y="1082.9" width="5" height="5"/><line x1="292.8" y1="1085.9" x2="303.8" y2="1084.8" stroke="#000" stroke-width="2"/><rect x="309.6" y="1082.4" width="3" height="3"/><rect x="322.3" y="1080.4" width="4" height="4"/><line x1="337.5" y1="1080.8" x2="337.2" y2="1088.5" stroke="#000" stroke-width="3"/><rect x="349.1" y="1077.8" width="3" height="3"/><rect x="387.7" y="1072.2" width="4" height="4"/><rect x="413.9" y="1068.9" width="3" height="3"/><line x1="440.9" y1="1066.7" x2="451.6" y2="1064.7" stroke="#000" stroke-width="3"/><rect x="451.5" y="1062.4" width="4" height="4"/><rect x="464.5" y="1060.6" width="3" height="3"/><rect x="487.8" y="1054.5" width="6" height="6"/><line x1="485.8" y1="1058.3" x2="496.8" y2="1056.6" stroke="#000" stroke-width="2"/><line x1="503.1" y1="1055.3" x2="508.7" y2="1054.2" stroke="#000" stroke-width="3"/><rect x="513.3" y="1051" width="4" height="4"/><rect x="536.4" y="1045.3" width="6" height="6"/><line x1="534.4" y1="1048.3" x2="545.4" y2="1048.3" stroke="#000" stroke-width="2"/><rect x="128.5" y="1109.7" width="6" height="6"/><line x1="126.5" y1="1113" x2="137.5" y2="1112.3" stroke="#000" stroke-width="2"/><rect x="142.4" y="1108.8" width="6" height="6"/><line x1="140.4" y1="1112.1" x2="151.4" y2="1111.4" stroke="#000" stroke-width="2"/><rect x="157.2" y="1108.9" width="4" height="4"/><line x1="173.1" y1="1109.9" x2="170.7" y2="1119.2" stroke="#000" stroke-width="3"/><rect x="184" y="1105.6" width="6" height="6"/><rect x="212.6" y="1104.1" width="4" height="4"/><rect x="225.9" y="1102.3" width="5" height="5"/><rect x="240.1" y="1101.6" width="4" height="4"/><rect x="254.3" y="1100.8" width="3" height="3"/><line x1="296.5" y1="1098.6" x2="295.6" y2="1107.4" stroke="#000" stroke-width="3"/><rect x="308.5" y="1095.6" width="3" height="3"/><rect x="321.5" y="1093.6" width="4" height="4"/><rect x="335.4" y="1092.5" width="3" height="3"/><rect x="375.3" y="1087.7" width="3" height="3"/><rect x="401.6" y="1083.7" width="3" height="3"/><rect x="414.1" y="1081.2" width="4" height="4"/><line x1="429.1" y1="1081.2" x2="437.7" y2="1079.9" stroke="#000" stroke-width="3"/><rect x="453.3" y="1075.2" width="3" height="3"/><rect x="491.2" y="1067.8" width="3" height="3"/><rect x="539.9" y="1057.2" width="4" height="4"/><line x1="155.8" y1="1123.5" x2="165.9" y2="1122.8" stroke="#000" stroke-width="3"/><line x1="169.9" y1="1122.6" x2="181.9" y2="1121.6" stroke="#000" stroke-width="3"/><line x1="183.9" y1="1121.4" x2="190.3" y2="1120.9" stroke="#000" stroke-width="3"/><rect x="209" y="1116" width="6" height="6"/><line x1="281.4" y1="1113" x2="293.6" y2="1111.9" stroke="#000" stroke-width="3"/><line x1="295.2" y1="1111.8" x2="301.9" y2="1111.1" stroke="#000" stroke-width="3"/><rect x="306.9" y="1108.3" width="4" height="4"/><rect x="347.8" y="1103.6" width="4" height="4"/><rect x="360.9" y="1101.6" width="5" height="5"/><rect x="375.4" y="1100.8" width="3" height="3"/><rect x="387.8" y="1097.7" width="5" height="5"/><rect x="402.1" y="1096.6" width="3" height="3"/><rect x="415.4" y="1094.5" width="3" height="3"/><line x1="430.1" y1="1093.9" x2="437.5" y2="1092.7" stroke="#000" stroke-width="3"/><rect x="441.7" y="1090.2" width="3" height="3"/><rect x="454.1" y="1087" width="4" height="4"/><line x1="469" y1="1086.3" x2="481.1" y2="1083.8" stroke="#000" stroke-width="3"/><line x1="481.8" y1="1083.6" x2="482.7" y2="1089.4" stroke="#000" stroke-width="3"/><rect x="493" y="1079.5" width="3" height="3"/><rect x="517.2" y="1073.1" width="5" height="5"/><line x1="514.7" y1="1076.6" x2="525.7" y2="1074.5" stroke="#000" stroke-width="2"/><line x1="544.4" y1="1070" x2="545.8" y2="1076.5" stroke="#000" stroke-width="3"/><line x1="109.6" y1="1138.2" x2="106.3" y2="1148.3" stroke="#000" stroke-width="3"/><rect x="136.7" y="1135.2" width="3" height="3"/><rect x="150.9" y="1134.5" width="3" height="3"/><rect x="192.7" y="1130.5" width="5" height="5"/><rect x="207.4" y="1129.9" width="4" height="4"/><rect x="221.1" y="1128.2" width="5" height="5"/><rect x="249.8" y="1126.4" width="4" height="4"/><rect x="264.4" y="1125.7" width="3" height="3"/><rect x="278.4" y="1124.6" width="3" height="3"/><rect x="305.8" y="1121.5" width="4" height="4"/><rect x="319.3" y="1119.5" width="5" height="5"/><line x1="335.6" y1="1120.4" x2="335.2" y2="1129" stroke="#000" stroke-width="3"/><rect x="361.2" y="1115.3" width="4" height="4"/><rect x="374.4" y="1112.9" width="5" height="5"/><line x1="371.9" y1="1116.2" x2="382.9" y2="1114.5" stroke="#000" stroke-width="2"/><rect x="388.5" y="1111.2" width="4" height="4"/><rect x="414.6" y="1105.7" width="6" height="6"/><line x1="412.6" y1="1109.5" x2="423.6" y2="1107.9" stroke="#000" stroke-width="2"/><line x1="431" y1="1106.5" x2="436.7" y2="1105.6" stroke="#000" stroke-width="3"/><rect x="455" y="1098.8" width="5" height="5"/><line x1="452.5" y1="1102.3" x2="463.5" y2="1100.1" stroke="#000" stroke-width="2"/><rect x="469" y="1096.9" width="3" height="3"/><rect x="507.2" y="1087.8" width="4" height="4"/><line x1="521.8" y1="1086.8" x2="528.4" y2="1085.2" stroke="#000" stroke-width="3"/><line x1="546.8" y1="1080.8" x2="547.8" y2="1085.1" stroke="#000" stroke-width="3"/><rect x="104.1" y="1148.9" width="3" height="3"/><rect x="117.6" y="1147.2" width="5" height="5"/><line x1="115.1" y1="1150" x2="126.1" y2="1149.5" stroke="#000" stroke-width="2"/><rect x="132.1" y="1146.6" width="5" height="5"/><rect x="160.9" y="1145.3" width="5" height="5"/><line x1="158.4" y1="1148.1" x2="169.4" y2="1147.5" stroke="#000" stroke-width="2"/><rect x="176.4" y="1145.5" width="3" height="3"/><line x1="192.3" y1="1145.8" x2="204.1" y2="1144.9" stroke="#000" stroke-width="3"/><rect x="205.3" y="1143.2" width="3" height="3"/><rect x="218.7" y="1141.1" width="5" height="5"/><line x1="216.2" y1="1144" x2="227.2" y2="1143.2" stroke="#000" stroke-width="2"/><line x1="249.8" y1="1141.4" x2="262.3" y2="1140.4" stroke="#000" stroke-width="3"/><rect x="262.1" y="1138.3" width="4" height="4"/><line x1="278.4" y1="1139.2" x2="277.7" y2="1145" stroke="#000" stroke-width="3"/><rect x="291.1" y="1136.6" width="3" height="3"/><rect x="318.9" y="1133.1" width="4" height="4"/><rect x="333.5" y="1132.1" width="3" height="3"/><rect x="375" y="1126.5" width="4" height="4"/><rect x="388.3" y="1123.7" width="5" height="5"/><line x1="385.8" y1="1126.9" x2="396.8" y2="1125.2" stroke="#000" stroke-width="2"/><rect x="402.6" y="1121.8" width="4" height="4"/><rect x="428.9" y="1116.2" width="6" height="6"/><line x1="445.4" y1="1116.7" x2="445.9" y2="1121.7" stroke="#000" stroke-width="3"/><rect x="469.1" y="1107.4" width="6" height="6"/><rect x="509.7" y="1099.7" width="3" height="3"/><line x1="524" y1="1098" x2="534.3" y2="1095.3" stroke="#000" stroke-width="3"/><rect x="534.7" y="1092.7" width="4" height="4"/><line x1="116.3" y1="1162" x2="129.4" y2="1161.5" stroke="#000" stroke-width="3"/><rect x="172.3" y="1157.2" width="5" height="5"/><rect x="201.2" y="1154.5" width="6" height="6"/><line x1="218.8" y1="1156.5" x2="216.7" y2="1167.6" stroke="#000" stroke-width="3"/><rect x="231.3" y="1153.4" width="4" height="4"/><rect x="246.4" y="1152.9" width="3" height="3"/><rect x="274.8" y="1150.3" width="4" height="4"/><line x1="291.3" y1="1151.2" x2="297.3" y2="1150.7" stroke="#000" stroke-width="3"/><line x1="305.7" y1="1149.9" x2="314.4" y2="1149" stroke="#000" stroke-width="3"/><line x1="348.7" y1="1145.1" x2="359.7" y2="1143.9" stroke="#000" stroke-width="3"/><rect x="360.9" y="1141.6" width="4" height="4"/><rect x="374" y="1138.6" width="6" height="6"/><rect x="403.6" y="1135.2" width="3" height="3"/><rect x="417.5" y="1132.8" width="3" height="3"/><rect x="444.1" y="1126.6" width="5" height="5"/><line x1="460.1" y1="1125.7" x2="469.9" y2="1123.3" stroke="#000" stroke-width="3"/><line x1="473.6" y1="1122.4" x2="484.5" y2="1119.7" stroke="#000" stroke-width="3"/><rect x="483.9" y="1116.1" width="6" height="6"/><rect x="497.1" y="1112.8" width="6" height="6"/><line x1="495.1" y1="1116.9" x2="506.1" y2="1114.5" stroke="#000" stroke-width="2"/><rect x="524.2" y="1107" width="4" height="4"/><line x1="539" y1="1105.5" x2="540.2" y2="1111.2" stroke="#000" stroke-width="3"/><rect x="549.7" y="1100" width="4" height="4"/><rect x="94.8" y="1171.5" width="6" height="6"/><line x1="92.8" y1="1174.6" x2="103.8" y2="1174.4" stroke="#000" stroke-width="2"/><rect x="125.9" y="1172.2" width="3" height="3"/><line x1="171.8" y1="1172.4" x2="181.8" y2="1171.7" stroke="#000" stroke-width="3"/><rect x="184.2" y="1168.9" width="5" height="5"/><line x1="181.7" y1="1171.7" x2="192.7" y2="1170.9" stroke="#000" stroke-width="2"/><rect x="200.1" y="1168.8" width="3" height="3"/><rect x="213.4" y="1166.3" width="6" height="6"/><line x1="211.4" y1="1169.7" x2="222.4" y2="1168.9" stroke="#000" stroke-width="2"/><rect x="229.2" y="1166.3" width="4" height="4"/><rect x="244.4" y="1165.8" width="3" height="3"/><line x1="260.6" y1="1166.3" x2="274.3" y2="1165.4" stroke="#000" stroke-width="3"/><rect x="273.3" y="1163.3" width="4" height="4"/><rect x="288.5" y="1162.8" width="3" height="3"/><rect x="303.1" y="1161.7" width="3" height="3"/><rect x="346.8" y="1156.8" width="3" height="3"/><line x1="377.1" y1="1154.7" x2="377.1" y2="1165.8" stroke="#000" stroke-width="3"/><rect x="416.7" y="1144" width="6" height="6"/><line x1="433.8" y1="1144.5" x2="434.5" y2="1154.8" stroke="#000" stroke-width="3"/><rect x="459.4" y="1135.9" width="4" height="4"/><rect x="472.6" y="1131.9" width="5" height="5"/><rect x="499.5" y="1124.8" width="5" height="5"/><line x1="497" y1="1128.5" x2="508" y2="1125.9" stroke="#000" stroke-width="2"/><line x1="515.2" y1="1123.8" x2="522.4" y2="1121.7" stroke="#000" stroke-width="3"/><rect x="526.3" y="1118" width="4" height="4"/><rect x="552.1" y="1110.6" width="4" height="4"/><rect x="91.4" y="1183.9" width="5" height="5"/><line x1="108.9" y1="1186.3" x2="106.4" y2="1194.4" stroke="#000" stroke-width="3"/><line x1="138.9" y1="1185.6" x2="150.3" y2="1185.4" stroke="#000" stroke-width="3"/><rect x="182.4" y="1182.6" width="3" height="3"/><line x1="199" y1="1183.1" x2="211.4" y2="1182.3" stroke="#000" stroke-width="3"/><line x1="229" y1="1181.2" x2="227.6" y2="1189.5" stroke="#000" stroke-width="3"/><rect x="257.4" y="1177.8" width="3" height="3"/><line x1="288.7" y1="1177.5" x2="299.2" y2="1176.7" stroke="#000" stroke-width="3"/><rect x="302" y="1174.9" width="3" height="3"/><rect x="315.8" y="1172.2" width="5" height="5"/><line x1="313.3" y1="1175.3" x2="324.3" y2="1174.1" stroke="#000" stroke-width="2"/><rect x="361" y="1168.4" width="3" height="3"/><rect x="374.6" y="1165.3" width="5" height="5"/><rect x="389.7" y="1163.1" width="4" height="4"/><rect x="404.6" y="1160.9" width="3" height="3"/><rect x="417.5" y="1156.8" width="6" height="6"/><rect x="432.7" y="1155.1" width="4" height="4"/><line x1="448.8" y1="1153.9" x2="449.8" y2="1164.9" stroke="#000" stroke-width="3"/><line x1="503.8" y1="1138.8" x2="509.7" y2="1137.1" stroke="#000" stroke-width="3"/><line x1="517.2" y1="1135" x2="523.8" y2="1133" stroke="#000" stroke-width="3"/><line x1="530.4" y1="1131" x2="538.2" y2="1128.6" stroke="#000" stroke-width="3"/><line x1="543.5" y1="1127" x2="550.1" y2="1125" stroke="#000" stroke-width="3"/><rect x="88.1" y="1196.2" width="4" height="4"/><rect x="102.2" y="1195.4" width="6" height="6"/><line x1="100.2" y1="1198.5" x2="111.2" y2="1198.3" stroke="#000" stroke-width="2"/><line x1="120.3" y1="1198.1" x2="117.2" y2="1208.9" stroke="#000" stroke-width="3"/><line x1="135.5" y1="1197.9" x2="134" y2="1203.6" stroke="#000" stroke-width="3"/><rect x="148.7" y="1195.7" width="4" height="4"/><rect x="163.8" y="1195.4" width="4" height="4"/><rect x="270.3" y="1189.4" width="4" height="4"/><line x1="317.5" y1="1187.9" x2="316.8" y2="1199.1" stroke="#000" stroke-width="3"/><rect x="331" y="1184.8" width="3" height="3"/><rect x="345" y="1182.1" width="5" height="5"/><line x1="342.5" y1="1185.2" x2="353.5" y2="1184" stroke="#000" stroke-width="2"/><rect x="375.2" y="1178.9" width="4" height="4"/><rect x="419.7" y="1171" width="3" height="3"/><rect x="434.1" y="1168.2" width="3" height="3"/><line x1="464.1" y1="1162.2" x2="474.1" y2="1159.3" stroke="#000" stroke-width="3"/><rect x="504.1" y="1148.7" width="3" height="3"/><rect x="530.6" y="1139.9" width="4" height="4"/><rect x="556.9" y="1131.4" width="4" height="4"/><rect x="84.3" y="1207.9" width="4" height="4"/><rect x="100" y="1208.9" width="3" height="3"/><rect x="114.3" y="1207.8" width="5" height="5"/><line x1="111.8" y1="1210.3" x2="122.8" y2="1210.2" stroke="#000" stroke-width="2"/><line x1="147.5" y1="1210" x2="156.6" y2="1209.9" stroke="#000" stroke-width="3"/><rect x="192.3" y="1207.1" width="3" height="3"/><rect x="207.2" y="1205.8" width="4" height="4"/><line x1="224.7" y1="1206.9" x2="232.7" y2="1206.5" stroke="#000" stroke-width="3"/><rect x="252.4" y="1202.3" width="6" height="6"/><rect x="268.2" y="1202" width="5" height="5"/><line x1="286" y1="1203.6" x2="285.5" y2="1209" stroke="#000" stroke-width="3"/><rect x="299.8" y="1201.3" width="3" height="3"/><rect x="314.6" y="1199.1" width="4" height="4"/><rect x="345.6" y="1196.3" width="3" height="3"/><line x1="377.3" y1="1194" x2="377.3" y2="1199.7" stroke="#000" stroke-width="3"/><rect x="405.6" y="1186.6" width="3" height="3"/><rect x="419.4" y="1182.7" width="5" height="5"/><rect x="434.6" y="1180.3" width="4" height="4"/><rect x="449.6" y="1177" width="3" height="3"/><rect x="478" y="1168.5" width="3" height="3"/><rect x="490.6" y="1162.8" width="6" height="6"/><rect x="506" y="1160.1" width="3" height="3"/><rect x="519.2" y="1155.2" width="4" height="4"/><line x1="534.7" y1="1152.7" x2="536.5" y2="1162.1" stroke="#000" stroke-width="3"/><rect x="546.5" y="1146.7" width="3" height="3"/><rect x="559.8" y="1142.2" width="3" height="3"/><rect x="81" y="1220" width="3" height="3"/><line x1="97.8" y1="1222.3" x2="105.4" y2="1222.3" stroke="#000" stroke-width="3"/><rect x="111.8" y="1220.9" width="3" height="3"/><rect x="174" y="1220.6" width="3" height="3"/><rect x="188.2" y="1218.3" width="6" height="6"/><line x1="186.2" y1="1221.6" x2="197.2" y2="1221" stroke="#000" stroke-width="2"/><rect x="205.4" y="1219" width="3" height="3"/><rect x="219.5" y="1216.8" width="6" height="6"/><line x1="217.5" y1="1220" x2="228.5" y2="1219.5" stroke="#000" stroke-width="2"/><rect x="281.7" y="1213.7" width="6" height="6"/><line x1="279.7" y1="1217" x2="290.7" y2="1216.4" stroke="#000" stroke-width="2"/><rect x="298.7" y="1214.5" width="3" height="3"/><rect x="360" y="1207.3" width="4" height="4"/><rect x="375.8" y="1205.6" width="3" height="3"/><rect x="390" y="1201.5" width="5" height="5"/><line x1="407.6" y1="1201" x2="408" y2="1211" stroke="#000" stroke-width="3"/><line x1="422.6" y1="1197.9" x2="436.3" y2="1195.2" stroke="#000" stroke-width="3"/><rect x="436" y="1193.4" width="3" height="3"/><rect x="450.2" y="1188.8" width="4" height="4"/><rect x="507.3" y="1170.9" width="4" height="4"/><rect x="534.8" y="1161.4" width="4" height="4"/><line x1="78.8" y1="1233.1" x2="90.1" y2="1233.8" stroke="#000" stroke-width="3"/><line x1="109.8" y1="1234.4" x2="117.8" y2="1234.4" stroke="#000" stroke-width="3"/><rect x="154.5" y="1232.2" width="5" height="5"/><line x1="152" y1="1234.7" x2="163" y2="1234.7" stroke="#000" stroke-width="2"/><rect x="171.2" y="1233.2" width="3" height="3"/><rect x="186.6" y="1232" width="4" height="4"/><rect x="218.8" y="1231.1" width="3" height="3"/><rect x="234.1" y="1229.9" width="4" height="4"/><line x1="267.7" y1="1230.5" x2="279.7" y2="1230" stroke="#000" stroke-width="3"/><line x1="283.4" y1="1229.8" x2="291.3" y2="1229.4" stroke="#000" stroke-width="3"/><rect x="297.2" y="1227.1" width="4" height="4"/><rect x="328.1" y="1223.3" width="5" height="5"/><rect x="358.9" y="1219.5" width="6" height="6"/><line x1="356.9" y1="1223.2" x2="367.9" y2="1221.5" stroke="#000" stroke-width="2"/><rect x="374.9" y="1217.7" width="5" height="5"/><rect x="390.3" y="1214.5" width="5" height="5"/><rect x="406.1" y="1211.8" width="4" height="4"/><rect x="420.8" y="1208.1" width="5" height="5"/><rect x="450.8" y="1200.6" width="5" height="5"/><rect x="508.6" y="1181.7" width="5" height="5"/><rect x="523.1" y="1177.2" width="4" height="4"/><rect x="537.4" y="1172.6" width="3" height="3"/><rect x="564" y="1162.2" width="4" height="4"/><line x1="75" y1="1244.6" x2="72.6" y2="1252" stroke="#000" stroke-width="3"/><line x1="106.3" y1="1246.4" x2="116" y2="1246.5" stroke="#000" stroke-width="3"/><rect x="120.2" y="1244.6" width="4" height="4"/><rect x="136.1" y="1244.8" width="4" height="4"/><line x1="154.1" y1="1247" x2="152" y2="1255.8" stroke="#000" stroke-width="3"/><line x1="170" y1="1247.2" x2="177.2" y2="1246.9" stroke="#000" stroke-width="3"/><line x1="186" y1="1246.6" x2="196.7" y2="1246.2" stroke="#000" stroke-width="3"/><rect x="232.2" y="1242.7" width="4" height="4"/><rect x="248.2" y="1242.1" width="4" height="4"/><rect x="280.1" y="1240.8" width="4" height="4"/><rect x="311.1" y="1237.7" width="6" height="6"/><line x1="330" y1="1239" x2="341.2" y2="1237.8" stroke="#000" stroke-width="3"/><line x1="361.7" y1="1235.6" x2="372.2" y2="1234" stroke="#000" stroke-width="3"/><rect x="374.4" y="1230.3" width="6" height="6"/><rect x="391.6" y="1228.4" width="3" height="3"/><line x1="439.4" y1="1220.1" x2="447.9" y2="1217.4" stroke="#000" stroke-width="3"/><rect x="467.8" y="1208.8" width="3" height="3"/><rect x="538.9" y="1182.8" width="4" height="4"/><rect x="553.2" y="1178" width="3" height="3"/><rect x="566.8" y="1172.8" width="3" height="3"/><line x1="102.9" y1="1258.3" x2="115" y2="1258.5" stroke="#000" stroke-width="3"/><rect x="132" y="1255.9" width="6" height="6"/><rect x="165.2" y="1257.6" width="4" height="4"/><rect x="214.5" y="1256.6" width="3" height="3"/><line x1="232.2" y1="1257.6" x2="230.7" y2="1267.7" stroke="#000" stroke-width="3"/><rect x="245.5" y="1254" width="6" height="6"/><rect x="261.7" y="1253.4" width="6" height="6"/><line x1="280.8" y1="1255.9" x2="290.9" y2="1255.5" stroke="#000" stroke-width="3"/><rect x="295.5" y="1253.8" width="3" height="3"/><line x1="313.2" y1="1253.8" x2="312.5" y2="1265.3" stroke="#000" stroke-width="3"/><line x1="345.5" y1="1250.4" x2="355.3" y2="1249.4" stroke="#000" stroke-width="3"/><rect x="360" y="1247.3" width="3" height="3"/><line x1="393.4" y1="1242.9" x2="408.2" y2="1239.7" stroke="#000" stroke-width="3"/><rect x="406.6" y="1237" width="5" height="5"/><line x1="440.3" y1="1232.7" x2="449" y2="1229.7" stroke="#000" stroke-width="3"/><rect x="454" y="1226" width="3" height="3"/><rect x="468.6" y="1220.2" width="4" height="4"/><rect x="513.2" y="1205.1" width="3" height="3"/><rect x="540.5" y="1192.8" width="5" height="5"/><rect x="65.6" y="1265.3" width="4" height="4"/><rect x="81.5" y="1266.7" width="4" height="4"/><rect x="97.9" y="1268.7" width="3" height="3"/><line x1="131.9" y1="1271.1" x2="142.7" y2="1271.4" stroke="#000" stroke-width="3"/><rect x="163" y="1270.5" width="3" height="3"/><rect x="195.4" y="1269.4" width="4" height="4"/><rect x="212.4" y="1269.4" width="3" height="3"/><rect x="228.3" y="1268.4" width="4" height="4"/><rect x="243.7" y="1266.9" width="6" height="6"/><rect x="261.7" y="1267.9" width="3" height="3"/><rect x="310.4" y="1265" width="4" height="4"/><line x1="328.7" y1="1265.3" x2="341.4" y2="1264" stroke="#000" stroke-width="3"/><line x1="361.3" y1="1261.9" x2="361.2" y2="1271.4" stroke="#000" stroke-width="3"/><rect x="407.1" y="1249.8" width="5" height="5"/><line x1="404.6" y1="1253.5" x2="415.6" y2="1250.8" stroke="#000" stroke-width="2"/><rect x="424" y="1247.2" width="3" height="3"/><rect x="439.7" y="1243.7" width="3" height="3"/><line x1="456.6" y1="1239.7" x2="457.2" y2="1245.7" stroke="#000" stroke-width="3"/><line x1="501.8" y1="1223.2" x2="503.2" y2="1233.1" stroke="#000" stroke-width="3"/><rect x="513.4" y="1214.7" width="6" height="6"/><line x1="511.4" y1="1219.7" x2="522.4" y2="1215.3" stroke="#000" stroke-width="2"/><rect x="529.3" y="1210.2" width="3" height="3"/><line x1="545" y1="1205.9" x2="551.5" y2="1203.2" stroke="#000" stroke-width="3"/><line x1="559.1" y1="1200.1" x2="571.9" y2="1194.8" stroke="#000" stroke-width="3"/><rect x="62.5" y="1277.1" width="3" height="3"/><rect x="78" y="1278.2" width="4" height="4"/><line x1="112.4" y1="1282.6" x2="120.2" y2="1282.9" stroke="#000" stroke-width="3"/><line x1="128.9" y1="1283.2" x2="140.6" y2="1283.6" stroke="#000" stroke-width="3"/><rect x="158.8" y="1281.3" width="6" height="6"/><line x1="156.8" y1="1284.2" x2="167.8" y2="1284.3" stroke="#000" stroke-width="2"/><rect x="193.5" y="1282.5" width="3" height="3"/><rect x="226.9" y="1281.7" width="3" height="3"/><line x1="245" y1="1282.8" x2="244" y2="1290.5" stroke="#000" stroke-width="3"/><rect x="258.6" y="1279.3" width="6" height="6"/><line x1="256.6" y1="1282.5" x2="267.6" y2="1282.2" stroke="#000" stroke-width="2"/><line x1="278.3" y1="1281.9" x2="285.9" y2="1281.7" stroke="#000" stroke-width="3"/><line x1="328.1" y1="1278.5" x2="340.1" y2="1277.2" stroke="#000" stroke-width="3"/><rect x="341.7" y="1273.8" width="6" height="6"/><line x1="339.7" y1="1277.3" x2="350.7" y2="1276.1" stroke="#000" stroke-width="2"/><rect x="359.7" y="1273.6" width="3" height="3"/><line x1="410.1" y1="1265.1" x2="410.5" y2="1274.9" stroke="#000" stroke-width="3"/><rect x="440.6" y="1256.2" width="3" height="3"/><line x1="488.4" y1="1240.2" x2="497.4" y2="1236.8" stroke="#000" stroke-width="3"/><line x1="503.4" y1="1234.6" x2="513" y2="1230.8" stroke="#000" stroke-width="3"/><rect x="515.7" y="1226.2" width="5" height="5"/><line x1="513.2" y1="1230.8" x2="524.2" y2="1226.2" stroke="#000" stroke-width="2"/><rect x="558.2" y="1207.2" width="6" height="6"/><line x1="556.2" y1="1212.3" x2="567.2" y2="1207.8" stroke="#000" stroke-width="2"/><line x1="60.4" y1="1289.8" x2="70.2" y2="1290.8" stroke="#000" stroke-width="3"/><rect x="122.8" y="1292.2" width="6" height="6"/><line x1="120.8" y1="1295" x2="131.8" y2="1295.5" stroke="#000" stroke-width="2"/><rect x="140.9" y="1294.4" width="3" height="3"/><line x1="226.4" y1="1296" x2="239.2" y2="1295.7" stroke="#000" stroke-width="3"/><rect x="241.8" y="1294.1" width="3" height="3"/><line x1="260.1" y1="1295.3" x2="275.9" y2="1295" stroke="#000" stroke-width="3"/><rect x="274" y="1291.9" width="6" height="6"/><line x1="272" y1="1295" x2="283" y2="1294.8" stroke="#000" stroke-width="2"/><rect x="308.6" y="1291.4" width="4" height="4"/><rect x="325" y="1289.1" width="5" height="5"/><line x1="322.5" y1="1292.2" x2="333.5" y2="1290.9" stroke="#000" stroke-width="2"/><rect x="359.5" y="1286.7" width="3" height="3"/><line x1="394.2" y1="1281.7" x2="405.3" y2="1279.1" stroke="#000" stroke-width="3"/><rect x="409.1" y="1276.4" width="3" height="3"/><rect x="440.5" y="1267.6" width="5" height="5"/><rect x="472.4" y="1255.9" width="4" height="4"/><line x1="489.8" y1="1251.8" x2="490.6" y2="1257.9" stroke="#000" stroke-width="3"/><line x1="520" y1="1239.7" x2="521.1" y2="1247" stroke="#000" stroke-width="3"/><rect x="546.6" y="1224.2" width="5" height="5"/><line x1="544.1" y1="1228.9" x2="555.1" y2="1224.1" stroke="#000" stroke-width="2"/><rect x="54.3" y="1298.4" width="5" height="5"/><line x1="51.8" y1="1300.2" x2="62.8" y2="1301.7" stroke="#000" stroke-width="2"/><rect x="86.4" y="1301.8" width="6" height="6"/><line x1="105.9" y1="1306.4" x2="117.1" y2="1306.9" stroke="#000" stroke-width="3"/><rect x="171.7" y="1308" width="3" height="3"/><line x1="190.3" y1="1309.3" x2="202.2" y2="1309.1" stroke="#000" stroke-width="3"/><line x1="224.5" y1="1308.7" x2="222.8" y2="1319.9" stroke="#000" stroke-width="3"/><rect x="240.1" y="1307" width="3" height="3"/><rect x="256.6" y="1306.2" width="4" height="4"/><line x1="275.7" y1="1307.9" x2="275" y2="1314.2" stroke="#000" stroke-width="3"/><rect x="291.2" y="1306.2" width="3" height="3"/><rect x="307.8" y="1304.5" width="4" height="4"/><rect x="324.4" y="1302.3" width="5" height="5"/><rect x="341.9" y="1301.1" width="4" height="4"/><rect x="358.8" y="1299.4" width="4" height="4"/><rect x="375.7" y="1296.7" width="4" height="4"/><line x1="427.6" y1="1286.7" x2="428" y2="1293.1" stroke="#000" stroke-width="3"/><rect x="442.5" y="1281" width="3" height="3"/><rect x="474.2" y="1268.2" width="3" height="3"/><rect x="489.3" y="1261.4" width="4" height="4"/><rect x="504.1" y="1254.7" width="5" height="5"/><line x1="501.6" y1="1259.4" x2="512.6" y2="1254.5" stroke="#000" stroke-width="2"/><rect x="548.1" y="1234.1" width="6" height="6"/><line x1="546.1" y1="1239.3" x2="557.1" y2="1234.4" stroke="#000" stroke-width="2"/><rect x="564" y="1228.9" width="3" height="3"/><rect x="67.1" y="1311.6" width="5" height="5"/><line x1="64.6" y1="1313.3" x2="75.6" y2="1314.9" stroke="#000" stroke-width="2"/><line x1="86.1" y1="1316.2" x2="96" y2="1317.4" stroke="#000" stroke-width="3"/><line x1="102.7" y1="1318.2" x2="100.5" y2="1326.4" stroke="#000" stroke-width="3"/><rect x="116.7" y="1316.1" width="6" height="6"/><rect x="134.7" y="1318.1" width="4" height="4"/><rect x="169.2" y="1320.5" width="3" height="3"/><rect x="220.6" y="1319.5" width="4" height="4"/><line x1="239.8" y1="1321.3" x2="238.9" y2="1328.6" stroke="#000" stroke-width="3"/><rect x="272.9" y="1319.4" width="3" height="3"/><line x1="291.6" y1="1320.7" x2="299.1" y2="1320.3" stroke="#000" stroke-width="3"/><line x1="308.9" y1="1319.7" x2="322.2" y2="1318.4" stroke="#000" stroke-width="3"/><rect x="409.6" y="1301.5" width="4" height="4"/><rect x="426.3" y="1297.4" width="4" height="4"/><line x1="461" y1="1288.1" x2="472.1" y2="1283.5" stroke="#000" stroke-width="3"/><rect x="475.5" y="1280" width="3" height="3"/><rect x="489.7" y="1271.9" width="6" height="6"/><line x1="508.2" y1="1268.4" x2="508.9" y2="1273.1" stroke="#000" stroke-width="3"/><rect x="520.5" y="1258.5" width="6" height="6"/><line x1="518.5" y1="1263.9" x2="529.5" y2="1258.6" stroke="#000" stroke-width="2"/><line x1="538.4" y1="1254.4" x2="546.6" y2="1250.4" stroke="#000" stroke-width="3"/><line x1="553.1" y1="1247.3" x2="554.3" y2="1253.3" stroke="#000" stroke-width="3"/><rect x="566.1" y="1238.9" width="3" height="3"/><rect x="48.1" y="1321.4" width="3" height="3"/><rect x="64.2" y="1323.2" width="4" height="4"/><rect x="81.3" y="1326.1" width="3" height="3"/><rect x="98" y="1328.4" width="3" height="3"/><rect x="115.1" y="1329.5" width="3" height="3"/><line x1="133.8" y1="1332.1" x2="145.5" y2="1332.8" stroke="#000" stroke-width="3"/><rect x="148.5" y="1330.7" width="5" height="5"/><line x1="168.2" y1="1334.3" x2="182.1" y2="1334.4" stroke="#000" stroke-width="3"/><rect x="183.7" y="1332.4" width="4" height="4"/><rect x="201.2" y="1332.3" width="4" height="4"/><line x1="220.6" y1="1334.2" x2="232.7" y2="1334.1" stroke="#000" stroke-width="3"/><line x1="238.1" y1="1334.1" x2="252.7" y2="1334" stroke="#000" stroke-width="3"/><rect x="271.6" y="1332.4" width="3" height="3"/><rect x="288.6" y="1331.8" width="4" height="4"/><rect x="306.6" y="1331.4" width="3" height="3"/><rect x="341.6" y="1327.9" width="3" height="3"/><rect x="358" y="1325.2" width="5" height="5"/><line x1="412.1" y1="1316.3" x2="422.6" y2="1313.7" stroke="#000" stroke-width="3"/><line x1="429" y1="1312" x2="429.6" y2="1322.7" stroke="#000" stroke-width="3"/><rect x="492.7" y="1284.9" width="3" height="3"/><line x1="509.8" y1="1279.6" x2="518.8" y2="1275.3" stroke="#000" stroke-width="3"/><line x1="525.2" y1="1272.3" x2="535.8" y2="1267.1" stroke="#000" stroke-width="3"/><rect x="538.3" y="1262.9" width="4" height="4"/><line x1="555.1" y1="1257.6" x2="568.9" y2="1250.8" stroke="#000" stroke-width="3"/><rect x="568.2" y="1248.9" width="3" height="3"/><rect x="582.6" y="1241.8" width="3" height="3"/><line x1="96.4" y1="1341.4" x2="112.6" y2="1342.8" stroke="#000" stroke-width="3"/><line x1="130.9" y1="1344.1" x2="129" y2="1352.2" stroke="#000" stroke-width="3"/><rect x="145.3" y="1342.3" width="6" height="6"/><line x1="143.3" y1="1344.9" x2="154.3" y2="1345.8" stroke="#000" stroke-width="2"/><line x1="165.7" y1="1346.5" x2="181.5" y2="1346.9" stroke="#000" stroke-width="3"/><rect x="199" y="1344.9" width="4" height="4"/><line x1="289.5" y1="1346.8" x2="289.1" y2="1352.1" stroke="#000" stroke-width="3"/><line x1="342.7" y1="1342.5" x2="342.5" y2="1349.4" stroke="#000" stroke-width="3"/><rect x="358.8" y="1339.3" width="3" height="3"/><line x1="395.3" y1="1333.5" x2="395.5" y2="1339.3" stroke="#000" stroke-width="3"/><rect x="426.8" y="1321.7" width="6" height="6"/><line x1="424.8" y1="1326.5" x2="435.8" y2="1322.6" stroke="#000" stroke-width="2"/><rect x="444.7" y="1317.5" width="4" height="4"/><rect x="460.2" y="1309.1" width="6" height="6"/><line x1="458.2" y1="1314.6" x2="469.2" y2="1309.2" stroke="#000" stroke-width="2"/><rect x="478" y="1303.4" width="3" height="3"/></g>
<rect x="186" y="1103.5" width="73" height="5" fill="#000"/>
<rect x="252" y="1066" width="40" height="3.5" fill="#000"/>
<rect x="190" y="1080" width="30" height="3" fill="#000"/>
<rect x="130" y="1172" width="40" height="4" fill="#000"/>
<rect x="325" y="1212" width="60" height="3" fill="#000"/>
<rect x="230" y="1232" width="45" height="4" fill="#000"/>
<rect x="100" y="1270" width="40" height="4" fill="#000"/>
<rect x="270" y="1300" width="45" height="3" fill="#000"/>
<rect x="180" y="1315" width="60" height="3" fill="#000"/>
<rect x="420" y="1140" width="30" height="3" fill="#000"/>
<rect x="380" y="1112" width="40" height="3" fill="#000"/>
<rect x="300" y="1158" width="35" height="3" fill="#000"/>
<rect x="470" y="1058" width="30" height="3" fill="#000"/>
<rect x="500" y="1095" width="25" height="3" fill="#000"/>
<rect x="390" y="1262" width="40" height="3" fill="#000"/>
<path d="M440,1000 C446.9,1000.7 469.8,1000.7 481.2,1004 C492.6,1007.3 501.4,1014.3 508.3,1020 C515.2,1025.7 518.1,1031.5 522.4,1038 C526.6,1044.5 530.1,1050 533.8,1059 C537.5,1068 540.8,1080.5 544.4,1092 C548,1103.5 552.3,1118.3 555.2,1128 C558.1,1137.7 560.5,1146.3 561.6,1150" fill="none" stroke="url(#s25)" stroke-width="16"/>
<path d="M310,1080 Q322,1070 336,1078 Q350,1092 346,1110 Q340,1124 322,1122 Q304,1118 302,1100 Q302,1088 310,1080 Z" fill="#fff"/>
<polygon points="489,1212 559,1160 580,1240 513,1276 489,1288" fill="#fff"/>
<polygon points="492,1222 520,1205 525,1250 494,1262" fill="url(#s12)"/>
<polygon points="525,1200 555,1178 570,1225 530,1250" fill="url(#s6)"/>
</g>
<g fill="none" stroke="#000" stroke-linejoin="round">
<path d="M164.6,1040 C164.3,1044.2 164.3,1055.8 163,1065 C161.7,1074.2 160,1083.7 157,1095 C154,1106.3 150.1,1118.8 145,1133 C139.9,1147.2 133.2,1164.6 126.3,1180 C119.4,1195.4 112.8,1208.7 103.5,1225.6 C94.2,1242.5 83,1265.9 70.6,1281.3 C58.2,1296.7 35.9,1311.9 29,1318" stroke-width="4.6"/>
<path d="M170,1044 C169.8,1047.7 170.2,1057.2 169,1066 C167.8,1074.8 166,1085.3 163,1097 C160,1108.7 156,1121.5 151,1136 C146,1150.5 139.8,1168.3 133,1184 C126.2,1199.7 119.2,1213.3 110,1230 C100.8,1246.7 89.7,1269.7 78,1284 C66.3,1298.3 46.3,1310.7 40,1316" stroke-width="1.6" stroke-dasharray="2,1.5"/>
<path d="M29,1318 C52.8,1320.4 126.8,1330.2 172,1332.5 C217.2,1334.8 266.8,1333 300,1331.7 C333.2,1330.4 347.5,1328.8 371.2,1324.6 C394.9,1320.4 418.7,1314.9 442.4,1306.8 C466.1,1298.7 490.5,1286.7 513.6,1276 C536.8,1265.3 570,1248.2 581.3,1242.7" stroke-width="5"/>
<path d="M218,995 L427,992 C431.7,992.8 446,995.2 455,997 C464,998.8 472.3,999 481.2,1002.6 C490.1,1006.2 501.4,1013.2 508.3,1018.9 C515.2,1024.6 518.1,1030.4 522.4,1037 C526.6,1043.6 530.1,1049.3 533.8,1058.3 C537.5,1067.3 540.8,1079.5 544.4,1091 C548,1102.5 552.3,1117.9 555.2,1127.2 C558.1,1136.5 560.5,1143.7 561.6,1147" stroke-width="4.5"/>
<polyline points="561.5,1152 580.5,1239 581.3,1242.7" stroke-width="4.5"/>
<polyline points="218,995 189.6,1027" stroke-width="5.5"/>
<polyline points="175.3,1029.3 250,1027.7 400,1011 448,1001.5" stroke-width="3.2"/>
<polyline points="176,1029 176,1038" stroke-width="3"/>
<polyline points="162,1039.6 230.7,1039.6" stroke-width="5"/>
<polyline points="488.5,1212 488,1280" stroke-width="2"/>
</g>
<rect x="820" y="905" width="1.2" height="1.2" fill="#000"/>
<rect x="1018.3" y="1417" width="195" height="38.8" fill="none" stroke="#000" stroke-width="4.6"/>
<text transform="translate(1038.8,1448.3) scale(0.895,1)" font-size="36.6" fill="#000">N94-0058</text>
</svg></body></html>
